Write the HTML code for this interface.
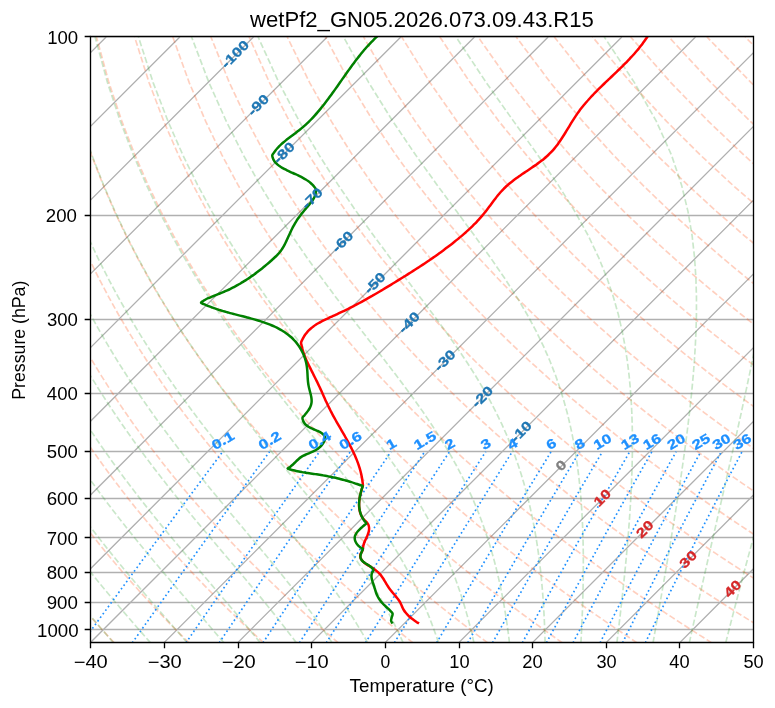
<!DOCTYPE html><html><head><meta charset="utf-8"><style>html,body{margin:0;padding:0;background:#fff;}svg{display:block;will-change:transform;}</style></head><body><svg width="775" height="708" viewBox="0 0 775 708">
<defs><clipPath id="ax"><rect x="90.5" y="36.5" width="663.00" height="606.00"/></clipPath></defs>
<rect width="775" height="708" fill="#fff"/>
<g clip-path="url(#ax)">
<path d="M90.5 36.5H753.5M90.5 215.5H753.5M90.5 319.5H753.5M90.5 393.5H753.5M90.5 451.5H753.5M90.5 498.5H753.5M90.5 537.5H753.5M90.5 572.5H753.5M90.5 602.5H753.5M90.5 629.5H753.5" stroke="#b0b0b0" stroke-width="1.333" fill="none"/>
<path d="M-499.17 642.87L106.15 36.95M-425.5 642.87L179.82 36.95M-351.83 642.87L253.48 36.95M-278.16 642.87L327.15 36.95M-204.5 642.87L400.82 36.95M-130.83 642.87L474.48 36.95M-57.16 642.87L548.15 36.95M16.5 642.87L621.82 36.95M90.17 642.87L695.48 36.95M163.84 642.87L769.15 36.95M237.5 642.87L842.82 36.95M311.17 642.87L916.49 36.95M384.84 642.87L990.15 36.95M458.5 642.87L1063.82 36.95M532.17 642.87L1137.49 36.95M605.84 642.87L1211.15 36.95M679.51 642.87L1284.82 36.95M753.17 642.87L1358.49 36.95" stroke="#b0b0b0" stroke-width="1.333" fill="none"/>
<path d="M114.28 642.87 L109.83 638.07 L105.34 633.17 L100.82 628.19 L96.27 623.1 L91.68 617.91 L87.05 612.61 L82.38 607.21 L77.68 601.68 L72.94 596.04 L68.16 590.27 L63.34 584.37 L58.47 578.32 L53.57 572.14 L48.63 565.8 L43.64 559.3 L38.61 552.64 L33.53 545.79 L28.41 538.76 L23.25 531.53 L18.04 524.1 L12.78 516.44 L7.47 508.55 L2.12 500.41 L-3.28 492.01 L-8.72 483.32 L-14.22 474.32 L-19.76 465 L-25.35 455.34 L-30.98 445.29 L-36.66 434.84 L-42.38 423.95 L-48.14 412.57 L-53.93 400.67 L-59.76 388.2 L-65.62 375.08 L-71.49 361.27 L-77.37 346.67 L-83.24 331.2 L-89.09 314.74 L-94.9 297.15 L-100.63 278.27 L-106.24 257.9 L-111.68 235.79 L-116.86 211.59 L-121.69 184.89 L-125.98 155.09 L-129.51 121.39 L-131.88 82.61 L-132.46 36.95 M188.98 642.87 L184.13 638.07 L179.25 633.17 L174.32 628.19 L169.35 623.1 L164.34 617.91 L159.28 612.61 L154.19 607.21 L149.05 601.68 L143.86 596.04 L138.62 590.27 L133.34 584.37 L128.02 578.32 L122.64 572.14 L117.21 565.8 L111.73 559.3 L106.2 552.64 L100.61 545.79 L94.97 538.76 L89.27 531.53 L83.52 524.1 L77.71 516.44 L71.84 508.55 L65.91 500.41 L59.92 492.01 L53.87 483.32 L47.75 474.32 L41.57 465 L35.33 455.34 L29.03 445.29 L22.66 434.84 L16.22 423.95 L9.73 412.57 L3.18 400.67 L-3.44 388.2 L-10.1 375.08 L-16.82 361.27 L-23.58 346.67 L-30.37 331.2 L-37.18 314.74 L-43.98 297.15 L-50.77 278.27 L-57.49 257.9 L-64.11 235.79 L-70.56 211.59 L-76.73 184.89 L-82.49 155.09 L-87.61 121.39 L-91.74 82.61 L-94.31 36.95 M263.68 642.87 L258.44 638.07 L253.15 633.17 L247.81 628.19 L242.43 623.1 L237 617.91 L231.52 612.61 L225.99 607.21 L220.41 601.68 L214.78 596.04 L209.09 590.27 L203.35 584.37 L197.56 578.32 L191.7 572.14 L185.79 565.8 L179.82 559.3 L173.79 552.64 L167.69 545.79 L161.53 538.76 L155.3 531.53 L149 524.1 L142.64 516.44 L136.2 508.55 L129.7 500.41 L123.11 492.01 L116.46 483.32 L109.72 474.32 L102.9 465 L96.01 455.34 L89.03 445.29 L81.97 434.84 L74.83 423.95 L67.6 412.57 L60.28 400.67 L52.89 388.2 L45.41 375.08 L37.85 361.27 L30.21 346.67 L22.51 331.2 L14.74 314.74 L6.93 297.15 L-0.91 278.27 L-8.75 257.9 L-16.55 235.79 L-24.25 211.59 L-31.77 184.89 L-38.99 155.09 L-45.71 121.39 L-51.61 82.61 L-56.15 36.95 M338.38 642.87 L332.74 638.07 L327.05 633.17 L321.31 628.19 L315.51 623.1 L309.66 617.91 L303.76 612.61 L297.8 607.21 L291.78 601.68 L285.7 596.04 L279.56 590.27 L273.36 584.37 L267.1 578.32 L260.77 572.14 L254.37 565.8 L247.91 559.3 L241.37 552.64 L234.77 545.79 L228.08 538.76 L221.33 531.53 L214.49 524.1 L207.57 516.44 L200.57 508.55 L193.48 500.41 L186.31 492.01 L179.04 483.32 L171.69 474.32 L164.24 465 L156.69 455.34 L149.04 445.29 L141.28 434.84 L133.43 423.95 L125.46 412.57 L117.39 400.67 L109.21 388.2 L100.92 375.08 L92.51 361.27 L84 346.67 L75.38 331.2 L66.66 314.74 L57.85 297.15 L48.95 278.27 L40 257.9 L31.02 235.79 L22.06 211.59 L13.18 184.89 L4.51 155.09 L-3.81 121.39 L-11.47 82.61 L-18 36.95 M413.08 642.87 L407.05 638.07 L400.95 633.17 L394.8 628.19 L388.59 623.1 L382.32 617.91 L375.99 612.61 L369.6 607.21 L363.14 601.68 L356.62 596.04 L350.03 590.27 L343.37 584.37 L336.64 578.32 L329.84 572.14 L322.96 565.8 L316 559.3 L308.96 552.64 L301.84 545.79 L294.64 538.76 L287.35 531.53 L279.97 524.1 L272.5 516.44 L264.93 508.55 L257.27 500.41 L249.5 492.01 L241.63 483.32 L233.66 474.32 L225.57 465 L217.36 455.34 L209.04 445.29 L200.6 434.84 L192.03 423.95 L183.33 412.57 L174.5 400.67 L165.53 388.2 L156.43 375.08 L147.18 361.27 L137.79 346.67 L128.26 331.2 L118.58 314.74 L108.76 297.15 L98.82 278.27 L88.75 257.9 L78.59 235.79 L68.37 211.59 L58.14 184.89 L48 155.09 L38.09 121.39 L28.67 82.61 L20.16 36.95 M487.79 642.87 L481.35 638.07 L474.85 633.17 L468.3 628.19 L461.67 623.1 L454.99 617.91 L448.23 612.61 L441.41 607.21 L434.51 601.68 L427.54 596.04 L420.5 590.27 L413.38 584.37 L406.18 578.32 L398.9 572.14 L391.54 565.8 L384.09 559.3 L376.55 552.64 L368.92 545.79 L361.2 538.76 L353.38 531.53 L345.46 524.1 L337.43 516.44 L329.3 508.55 L321.06 500.41 L312.7 492.01 L304.22 483.32 L295.62 474.32 L286.9 465 L278.04 455.34 L269.05 445.29 L259.91 434.84 L250.63 423.95 L241.2 412.57 L231.61 400.67 L221.86 388.2 L211.94 375.08 L201.85 361.27 L191.58 346.67 L181.13 331.2 L170.5 314.74 L159.68 297.15 L148.68 278.27 L137.5 257.9 L126.16 235.79 L114.67 211.59 L103.1 184.89 L91.5 155.09 L79.99 121.39 L68.8 82.61 L58.31 36.95 M562.49 642.87 L555.65 638.07 L548.76 633.17 L541.79 628.19 L534.75 623.1 L527.65 617.91 L520.47 612.61 L513.21 607.21 L505.88 601.68 L498.46 596.04 L490.97 590.27 L483.39 584.37 L475.72 578.32 L467.97 572.14 L460.12 565.8 L452.18 559.3 L444.14 552.64 L436 545.79 L427.76 538.76 L419.4 531.53 L410.94 524.1 L402.36 516.44 L393.66 508.55 L384.84 500.41 L375.89 492.01 L366.81 483.32 L357.59 474.32 L348.23 465 L338.72 455.34 L329.05 445.29 L319.23 434.84 L309.23 423.95 L299.07 412.57 L288.72 400.67 L278.18 388.2 L267.45 375.08 L256.52 361.27 L245.37 346.67 L234.01 331.2 L222.42 314.74 L210.59 297.15 L198.54 278.27 L186.25 257.9 L173.72 235.79 L160.98 211.59 L148.05 184.89 L134.99 155.09 L121.9 121.39 L108.94 82.61 L96.47 36.95 M637.19 642.87 L629.96 638.07 L622.66 633.17 L615.29 628.19 L607.84 623.1 L600.31 617.91 L592.7 612.61 L585.02 607.21 L577.24 601.68 L569.39 596.04 L561.44 590.27 L553.4 584.37 L545.27 578.32 L537.04 572.14 L528.71 565.8 L520.27 559.3 L511.73 552.64 L503.08 545.79 L494.31 538.76 L485.43 531.53 L476.42 524.1 L467.29 516.44 L458.03 508.55 L448.63 500.41 L439.09 492.01 L429.4 483.32 L419.56 474.32 L409.56 465 L399.39 455.34 L389.06 445.29 L378.54 434.84 L367.83 423.95 L356.93 412.57 L345.83 400.67 L334.51 388.2 L322.96 375.08 L311.18 361.27 L299.16 346.67 L286.88 331.2 L274.33 314.74 L261.51 297.15 L248.4 278.27 L234.99 257.9 L221.29 235.79 L207.29 211.59 L193.01 184.89 L178.49 155.09 L163.8 121.39 L149.08 82.61 L134.63 36.95 M711.89 642.87 L704.26 638.07 L696.56 633.17 L688.78 628.19 L680.92 623.1 L672.97 617.91 L664.94 612.61 L656.82 607.21 L648.61 601.68 L640.31 596.04 L631.91 590.27 L623.41 584.37 L614.81 578.32 L606.1 572.14 L597.29 565.8 L588.36 559.3 L579.32 552.64 L570.16 545.79 L560.87 538.76 L551.46 531.53 L541.91 524.1 L532.22 516.44 L522.39 508.55 L512.42 500.41 L502.28 492.01 L491.99 483.32 L481.53 474.32 L470.89 465 L460.07 455.34 L449.06 445.29 L437.85 434.84 L426.44 423.95 L414.8 412.57 L402.94 400.67 L390.83 388.2 L378.47 375.08 L365.85 361.27 L352.95 346.67 L339.76 331.2 L326.25 314.74 L312.43 297.15 L298.26 278.27 L283.74 257.9 L268.86 235.79 L253.6 211.59 L237.97 184.89 L221.98 155.09 L205.7 121.39 L189.22 82.61 L172.78 36.95 M786.59 642.87 L778.57 638.07 L770.46 633.17 L762.27 628.19 L754 623.1 L745.63 617.91 L737.18 612.61 L728.63 607.21 L719.98 601.68 L711.23 596.04 L702.38 590.27 L693.42 584.37 L684.35 578.32 L675.17 572.14 L665.87 565.8 L656.45 559.3 L646.91 552.64 L637.24 545.79 L627.43 538.76 L617.48 531.53 L607.39 524.1 L597.15 516.44 L586.76 508.55 L576.2 500.41 L565.48 492.01 L554.58 483.32 L543.49 474.32 L532.22 465 L520.75 455.34 L509.07 445.29 L497.17 434.84 L485.04 423.95 L472.67 412.57 L460.04 400.67 L447.15 388.2 L433.98 375.08 L420.52 361.27 L406.74 346.67 L392.63 331.2 L378.17 314.74 L363.34 297.15 L348.12 278.27 L332.49 257.9 L316.42 235.79 L299.91 211.59 L282.92 184.89 L265.48 155.09 L247.6 121.39 L229.35 82.61 L210.94 36.95 M861.29 642.87 L852.87 638.07 L844.37 633.17 L835.77 628.19 L827.08 623.1 L818.3 617.91 L809.41 612.61 L800.43 607.21 L791.34 601.68 L782.15 596.04 L772.85 590.27 L763.43 584.37 L753.89 578.32 L744.24 572.14 L734.45 565.8 L724.54 559.3 L714.5 552.64 L704.31 545.79 L693.99 538.76 L683.51 531.53 L672.88 524.1 L662.08 516.44 L651.12 508.55 L639.99 500.41 L628.67 492.01 L617.17 483.32 L605.46 474.32 L593.55 465 L581.43 455.34 L569.07 445.29 L556.48 434.84 L543.64 423.95 L530.53 412.57 L517.15 400.67 L503.48 388.2 L489.5 375.08 L475.19 361.27 L460.53 346.67 L445.5 331.2 L430.09 314.74 L414.26 297.15 L397.98 278.27 L381.24 257.9 L363.99 235.79 L346.21 211.59 L327.88 184.89 L308.98 155.09 L289.5 121.39 L269.49 82.61 L249.09 36.95 M935.99 642.87 L927.18 638.07 L918.27 633.17 L909.26 628.19 L900.16 623.1 L890.96 617.91 L881.65 612.61 L872.23 607.21 L862.71 601.68 L853.07 596.04 L843.31 590.27 L833.44 584.37 L823.43 578.32 L813.3 572.14 L803.04 565.8 L792.63 559.3 L782.09 552.64 L771.39 545.79 L760.54 538.76 L749.53 531.53 L738.36 524.1 L727.01 516.44 L715.49 508.55 L703.77 500.41 L691.87 492.01 L679.75 483.32 L667.43 474.32 L654.88 465 L642.1 455.34 L629.08 445.29 L615.79 434.84 L602.24 423.95 L588.4 412.57 L574.26 400.67 L559.8 388.2 L545.01 375.08 L529.85 361.27 L514.32 346.67 L498.38 331.2 L482.01 314.74 L465.17 297.15 L447.84 278.27 L429.98 257.9 L411.56 235.79 L392.52 211.59 L372.84 184.89 L352.47 155.09 L331.4 121.39 L309.63 82.61 L287.25 36.95 M1010.69 642.87 L1001.48 638.07 L992.17 633.17 L982.76 628.19 L973.24 623.1 L963.62 617.91 L953.89 612.61 L944.04 607.21 L934.08 601.68 L923.99 596.04 L913.78 590.27 L903.45 584.37 L892.98 578.32 L882.37 572.14 L871.62 565.8 L860.72 559.3 L849.68 552.64 L838.47 545.79 L827.1 538.76 L815.56 531.53 L803.84 524.1 L791.94 516.44 L779.85 508.55 L767.56 500.41 L755.06 492.01 L742.34 483.32 L729.4 474.32 L716.21 465 L702.78 455.34 L689.08 445.29 L675.11 434.84 L660.84 423.95 L646.27 412.57 L631.37 400.67 L616.13 388.2 L600.52 375.08 L584.52 361.27 L568.11 346.67 L551.25 331.2 L533.93 314.74 L516.09 297.15 L497.7 278.27 L478.73 257.9 L459.12 235.79 L438.83 211.59 L417.79 184.89 L395.97 155.09 L373.3 121.39 L349.77 82.61 L325.4 36.95 M1085.39 642.87 L1075.79 638.07 L1066.07 633.17 L1056.25 628.19 L1046.32 623.1 L1036.28 617.91 L1026.12 612.61 L1015.84 607.21 L1005.44 601.68 L994.91 596.04 L984.25 590.27 L973.45 584.37 L962.52 578.32 L951.44 572.14 L940.2 565.8 L928.81 559.3 L917.27 552.64 L905.55 545.79 L893.66 538.76 L881.59 531.53 L869.33 524.1 L856.87 516.44 L844.22 508.55 L831.35 500.41 L818.26 492.01 L804.93 483.32 L791.37 474.32 L777.54 465 L763.46 455.34 L749.09 445.29 L734.42 434.84 L719.44 423.95 L704.14 412.57 L688.48 400.67 L672.45 388.2 L656.03 375.08 L639.19 361.27 L621.9 346.67 L604.13 331.2 L585.84 314.74 L567 297.15 L547.57 278.27 L527.48 257.9 L506.69 235.79 L485.14 211.59 L462.75 184.89 L439.46 155.09 L415.2 121.39 L389.9 82.61 L363.56 36.95 M1160.1 642.87 L1150.09 638.07 L1139.98 633.17 L1129.75 628.19 L1119.41 623.1 L1108.94 617.91 L1098.36 612.61 L1087.65 607.21 L1076.81 601.68 L1065.83 596.04 L1054.72 590.27 L1043.46 584.37 L1032.06 578.32 L1020.5 572.14 L1008.79 565.8 L996.9 559.3 L984.85 552.64 L972.63 545.79 L960.22 538.76 L947.61 531.53 L934.81 524.1 L921.81 516.44 L908.58 508.55 L895.13 500.41 L881.45 492.01 L867.52 483.32 L853.33 474.32 L838.88 465 L824.13 455.34 L809.09 445.29 L793.74 434.84 L778.05 423.95 L762 412.57 L745.59 400.67 L728.78 388.2 L711.54 375.08 L693.86 361.27 L675.69 346.67 L657 331.2 L637.76 314.74 L617.92 297.15 L597.43 278.27 L576.23 257.9 L554.26 235.79 L531.44 211.59 L507.71 184.89 L482.96 155.09 L457.1 121.39 L430.04 82.61 L401.72 36.95 M1234.8 642.87 L1224.39 638.07 L1213.88 633.17 L1203.24 628.19 L1192.49 623.1 L1181.61 617.91 L1170.6 612.61 L1159.45 607.21 L1148.18 601.68 L1136.76 596.04 L1125.19 590.27 L1113.47 584.37 L1101.6 578.32 L1089.57 572.14 L1077.37 565.8 L1065 559.3 L1052.44 552.64 L1039.7 545.79 L1026.77 538.76 L1013.64 531.53 L1000.3 524.1 L986.74 516.44 L972.95 508.55 L958.92 500.41 L944.65 492.01 L930.11 483.32 L915.3 474.32 L900.21 465 L884.81 455.34 L869.1 445.29 L853.05 434.84 L836.65 423.95 L819.87 412.57 L802.7 400.67 L785.1 388.2 L767.05 375.08 L748.52 361.27 L729.48 346.67 L709.88 331.2 L689.68 314.74 L668.84 297.15 L647.29 278.27 L624.98 257.9 L601.82 235.79 L577.75 211.59 L552.66 184.89 L526.45 155.09 L499 121.39 L470.18 82.61 L439.87 36.95 M1309.5 642.87 L1298.7 638.07 L1287.78 633.17 L1276.74 628.19 L1265.57 623.1 L1254.27 617.91 L1242.83 612.61 L1231.26 607.21 L1219.54 601.68 L1207.68 596.04 L1195.66 590.27 L1183.48 584.37 L1171.14 578.32 L1158.63 572.14 L1145.95 565.8 L1133.09 559.3 L1120.03 552.64 L1106.78 545.79 L1093.33 538.76 L1079.67 531.53 L1065.78 524.1 L1051.67 516.44 L1037.31 508.55 L1022.71 500.41 L1007.84 492.01 L992.7 483.32 L977.27 474.32 L961.54 465 L945.49 455.34 L929.1 445.29 L912.36 434.84 L895.25 423.95 L877.74 412.57 L859.8 400.67 L841.42 388.2 L822.56 375.08 L803.19 361.27 L783.27 346.67 L762.75 331.2 L741.6 314.74 L719.75 297.15 L697.15 278.27 L673.72 257.9 L649.39 235.79 L624.06 211.59 L597.62 184.89 L569.95 155.09 L540.9 121.39 L510.31 82.61 L478.03 36.95 M1384.2 642.87 L1373 638.07 L1361.68 633.17 L1350.23 628.19 L1338.65 623.1 L1326.93 617.91 L1315.07 612.61 L1303.06 607.21 L1290.91 601.68 L1278.6 596.04 L1266.13 590.27 L1253.49 584.37 L1240.69 578.32 L1227.7 572.14 L1214.53 565.8 L1201.18 559.3 L1187.62 552.64 L1173.86 545.79 L1159.89 538.76 L1145.69 531.53 L1131.26 524.1 L1116.6 516.44 L1101.68 508.55 L1086.49 500.41 L1071.04 492.01 L1055.29 483.32 L1039.24 474.32 L1022.87 465 L1006.16 455.34 L989.11 445.29 L971.68 434.84 L953.85 423.95 L935.6 412.57 L916.91 400.67 L897.75 388.2 L878.07 375.08 L857.86 361.27 L837.06 346.67 L815.63 331.2 L793.52 314.74 L770.67 297.15 L747.01 278.27 L722.47 257.9 L696.96 235.79 L670.37 211.59 L642.58 184.89 L613.45 155.09 L582.8 121.39 L550.45 82.61 L516.18 36.95 M1458.9 642.87 L1447.31 638.07 L1435.58 633.17 L1423.73 628.19 L1411.73 623.1 L1399.59 617.91 L1387.31 612.61 L1374.87 607.21 L1362.27 601.68 L1349.52 596.04 L1336.6 590.27 L1323.5 584.37 L1310.23 578.32 L1296.77 572.14 L1283.12 565.8 L1269.27 559.3 L1255.21 552.64 L1240.94 545.79 L1226.44 538.76 L1211.72 531.53 L1196.75 524.1 L1181.53 516.44 L1166.04 508.55 L1150.28 500.41 L1134.23 492.01 L1117.88 483.32 L1101.21 474.32 L1084.2 465 L1066.84 455.34 L1049.11 445.29 L1030.99 434.84 L1012.45 423.95 L993.47 412.57 L974.02 400.67 L954.07 388.2 L933.59 375.08 L912.52 361.27 L890.85 346.67 L868.5 331.2 L845.44 314.74 L821.58 297.15 L796.87 278.27 L771.22 257.9 L744.52 235.79 L716.68 211.59 L687.53 184.89 L656.94 155.09 L624.7 121.39 L590.59 82.61 L554.34 36.95 M1533.6 642.87 L1521.61 638.07 L1509.49 633.17 L1497.22 628.19 L1484.81 623.1 L1472.25 617.91 L1459.54 612.61 L1446.67 607.21 L1433.64 601.68 L1420.44 596.04 L1407.07 590.27 L1393.51 584.37 L1379.77 578.32 L1365.83 572.14 L1351.7 565.8 L1337.36 559.3 L1322.8 552.64 L1308.02 545.79 L1293 538.76 L1277.74 531.53 L1262.23 524.1 L1246.46 516.44 L1230.41 508.55 L1214.07 500.41 L1197.42 492.01 L1180.47 483.32 L1163.17 474.32 L1145.53 465 L1127.52 455.34 L1109.12 445.29 L1090.3 434.84 L1071.05 423.95 L1051.34 412.57 L1031.13 400.67 L1010.4 388.2 L989.1 375.08 L967.19 361.27 L944.64 346.67 L921.38 331.2 L897.35 314.74 L872.5 297.15 L846.73 278.27 L819.97 257.9 L792.09 235.79 L762.98 211.59 L732.49 184.89 L700.44 155.09 L666.6 121.39 L630.73 82.61 L592.49 36.95 M1608.3 642.87 L1595.92 638.07 L1583.39 633.17 L1570.72 628.19 L1557.89 623.1 L1544.92 617.91 L1531.78 612.61 L1518.48 607.21 L1505.01 601.68 L1491.36 596.04 L1477.53 590.27 L1463.52 584.37 L1449.31 578.32 L1434.9 572.14 L1420.28 565.8 L1405.45 559.3 L1390.39 552.64 L1375.1 545.79 L1359.56 538.76 L1343.77 531.53 L1327.72 524.1 L1311.39 516.44 L1294.77 508.55 L1277.85 500.41 L1260.62 492.01 L1243.05 483.32 L1225.14 474.32 L1206.86 465 L1188.2 455.34 L1169.12 445.29 L1149.62 434.84 L1129.65 423.95 L1109.21 412.57 L1088.24 400.67 L1066.72 388.2 L1044.61 375.08 L1021.86 361.27 L998.43 346.67 L974.25 331.2 L949.27 314.74 L923.41 297.15 L896.59 278.27 L868.71 257.9 L839.66 235.79 L809.29 211.59 L777.45 184.89 L743.93 155.09 L708.5 121.39 L670.86 82.61 L630.65 36.95 M1683 642.87 L1670.22 638.07 L1657.29 633.17 L1644.21 628.19 L1630.97 623.1 L1617.58 617.91 L1604.02 612.61 L1590.28 607.21 L1576.37 601.68 L1562.28 596.04 L1548 590.27 L1533.53 584.37 L1518.85 578.32 L1503.97 572.14 L1488.87 565.8 L1473.54 559.3 L1457.98 552.64 L1442.17 545.79 L1426.12 538.76 L1409.8 531.53 L1393.2 524.1 L1376.32 516.44 L1359.14 508.55 L1341.64 500.41 L1323.81 492.01 L1305.64 483.32 L1287.11 474.32 L1268.19 465 L1248.87 455.34 L1229.13 445.29 L1208.93 434.84 L1188.26 423.95 L1167.07 412.57 L1145.35 400.67 L1123.04 388.2 L1100.12 375.08 L1076.53 361.27 L1052.22 346.67 L1027.13 331.2 L1001.19 314.74 L974.33 297.15 L946.46 278.27 L917.46 257.9 L887.23 235.79 L855.6 211.59 L822.4 184.89 L787.43 155.09 L750.4 121.39 L711 82.61 L668.8 36.95 M1757.7 642.87 L1744.53 638.07 L1731.19 633.17 L1717.71 628.19 L1704.06 623.1 L1690.24 617.91 L1676.25 612.61 L1662.09 607.21 L1647.74 601.68 L1633.2 596.04 L1618.47 590.27 L1603.54 584.37 L1588.39 578.32 L1573.03 572.14 L1557.45 565.8 L1541.63 559.3 L1525.57 552.64 L1509.25 545.79 L1492.67 538.76 L1475.82 531.53 L1458.69 524.1 L1441.25 516.44 L1423.5 508.55 L1405.43 500.41 L1387.01 492.01 L1368.23 483.32 L1349.08 474.32 L1329.52 465 L1309.55 455.34 L1289.13 445.29 L1268.24 434.84 L1246.86 423.95 L1224.94 412.57 L1202.46 400.67 L1179.37 388.2 L1155.63 375.08 L1131.19 361.27 L1106.01 346.67 L1080 331.2 L1053.11 314.74 L1025.25 297.15 L996.32 278.27 L966.21 257.9 L934.79 235.79 L901.91 211.59 L867.36 184.89 L830.92 155.09 L792.3 121.39 L751.14 82.61 L706.96 36.95 M1832.41 642.87 L1818.83 638.07 L1805.1 633.17 L1791.2 628.19 L1777.14 623.1 L1762.9 617.91 L1748.49 612.61 L1733.89 607.21 L1719.11 601.68 L1704.13 596.04 L1688.94 590.27 L1673.55 584.37 L1657.94 578.32 L1642.1 572.14 L1626.03 565.8 L1609.72 559.3 L1593.16 552.64 L1576.33 545.79 L1559.23 538.76 L1541.85 531.53 L1524.17 524.1 L1506.18 516.44 L1487.87 508.55 L1469.21 500.41 L1450.2 492.01 L1430.82 483.32 L1411.04 474.32 L1390.85 465 L1370.23 455.34 L1349.14 445.29 L1327.56 434.84 L1305.46 423.95 L1282.81 412.57 L1259.56 400.67 L1235.69 388.2 L1211.14 375.08 L1185.86 361.27 L1159.8 346.67 L1132.88 331.2 L1105.03 314.74 L1076.16 297.15 L1046.18 278.27 L1014.96 257.9 L982.36 235.79 L948.21 211.59 L912.32 184.89 L874.42 155.09 L834.2 121.39 L791.27 82.61 L745.12 36.95 M1907.11 642.87 L1893.13 638.07 L1879 633.17 L1864.69 628.19 L1850.22 623.1 L1835.56 617.91 L1820.73 612.61 L1805.7 607.21 L1790.47 601.68 L1775.05 596.04 L1759.41 590.27 L1743.56 584.37 L1727.48 578.32 L1711.17 572.14 L1694.61 565.8 L1677.81 559.3 L1660.74 552.64 L1643.41 545.79 L1625.79 538.76 L1607.87 531.53 L1589.65 524.1 L1571.11 516.44 L1552.23 508.55 L1533 500.41 L1513.4 492.01 L1493.41 483.32 L1473.01 474.32 L1452.19 465 L1430.9 455.34 L1409.14 445.29 L1386.87 434.84 L1364.06 423.95 L1340.67 412.57 L1316.67 400.67 L1292.02 388.2 L1266.65 375.08 L1240.53 361.27 L1213.59 346.67 L1185.75 331.2 L1156.95 314.74 L1127.08 297.15 L1096.04 278.27 L1063.71 257.9 L1029.93 235.79 L994.52 211.59 L957.27 184.89 L917.91 155.09 L876.11 121.39 L831.41 82.61 L783.27 36.95 M1981.81 642.87 L1967.44 638.07 L1952.9 633.17 L1938.19 628.19 L1923.3 623.1 L1908.23 617.91 L1892.96 612.61 L1877.5 607.21 L1861.84 601.68 L1845.97 596.04 L1829.88 590.27 L1813.57 584.37 L1797.02 578.32 L1780.23 572.14 L1763.2 565.8 L1745.9 559.3 L1728.33 552.64 L1710.49 545.79 L1692.35 538.76 L1673.9 531.53 L1655.14 524.1 L1636.04 516.44 L1616.6 508.55 L1596.79 500.41 L1576.59 492.01 L1556 483.32 L1534.98 474.32 L1513.52 465 L1491.58 455.34 L1469.15 445.29 L1446.19 434.84 L1422.66 423.95 L1398.54 412.57 L1373.78 400.67 L1348.34 388.2 L1322.16 375.08 L1295.2 361.27 L1267.37 346.67 L1238.63 331.2 L1208.86 314.74 L1177.99 297.15 L1145.9 278.27 L1112.45 257.9 L1077.49 235.79 L1040.83 211.59 L1002.23 184.89 L961.41 155.09 L918.01 121.39 L871.55 82.61 L821.43 36.95 M2056.51 642.87 L2041.74 638.07 L2026.8 633.17 L2011.68 628.19 L1996.38 623.1 L1980.89 617.91 L1965.2 612.61 L1949.31 607.21 L1933.21 601.68 L1916.89 596.04 L1900.35 590.27 L1883.57 584.37 L1866.56 578.32 L1849.3 572.14 L1831.78 565.8 L1813.99 559.3 L1795.92 552.64 L1777.56 545.79 L1758.9 538.76 L1739.93 531.53 L1720.62 524.1 L1700.97 516.44 L1680.96 508.55 L1660.57 500.41 L1639.79 492.01 L1618.59 483.32 L1596.95 474.32 L1574.85 465 L1552.26 455.34 L1529.15 445.29 L1505.5 434.84 L1481.26 423.95 L1456.41 412.57 L1430.89 400.67 L1404.66 388.2 L1377.67 375.08 L1349.86 361.27 L1321.16 346.67 L1291.5 331.2 L1260.78 314.74 L1228.91 297.15 L1195.76 278.27 L1161.2 257.9 L1125.06 235.79 L1087.14 211.59 L1047.19 184.89 L1004.91 155.09 L959.91 121.39 L911.69 82.61 L859.58 36.95 M2131.21 642.87 L2116.05 638.07 L2100.71 633.17 L2085.18 628.19 L2069.46 623.1 L2053.55 617.91 L2037.44 612.61 L2021.11 607.21 L2004.57 601.68 L1987.81 596.04 L1970.82 590.27 L1953.58 584.37 L1936.1 578.32 L1918.37 572.14 L1900.36 565.8 L1882.08 559.3 L1863.51 552.64 L1844.64 545.79 L1825.46 538.76 L1805.95 531.53 L1786.11 524.1 L1765.9 516.44 L1745.33 508.55 L1724.36 500.41 L1702.98 492.01 L1681.18 483.32 L1658.92 474.32 L1636.18 465 L1612.94 455.34 L1589.16 445.29 L1564.81 434.84 L1539.87 423.95 L1514.28 412.57 L1488 400.67 L1460.99 388.2 L1433.19 375.08 L1404.53 361.27 L1374.95 346.67 L1344.37 331.2 L1312.7 314.74 L1279.82 297.15 L1245.62 278.27 L1209.95 257.9 L1172.63 235.79 L1133.44 211.59 L1092.14 184.89 L1048.4 155.09 L1001.81 121.39 L951.82 82.61 L897.74 36.95 M2205.91 642.87 L2190.35 638.07 L2174.61 633.17 L2158.67 628.19 L2142.54 623.1 L2126.21 617.91 L2109.67 612.61 L2092.92 607.21 L2075.94 601.68 L2058.73 596.04 L2041.29 590.27 L2023.59 584.37 L2005.65 578.32 L1987.43 572.14 L1968.95 565.8 L1950.17 559.3 L1931.1 552.64 L1911.72 545.79 L1892.02 538.76 L1871.98 531.53 L1851.59 524.1 L1830.83 516.44 L1809.69 508.55 L1788.15 500.41 L1766.18 492.01 L1743.77 483.32 L1720.88 474.32 L1697.51 465 L1673.61 455.34 L1649.16 445.29 L1624.13 434.84 L1598.47 423.95 L1572.14 412.57 L1545.11 400.67 L1517.31 388.2 L1488.7 375.08 L1459.2 361.27 L1428.74 346.67 L1397.25 331.2 L1364.62 314.74 L1330.74 297.15 L1295.48 278.27 L1258.7 257.9 L1220.19 235.79 L1179.75 211.59 L1137.1 184.89 L1091.9 155.09 L1043.71 121.39 L991.96 82.61 L935.89 36.95 M2280.61 642.87 L2264.66 638.07 L2248.51 633.17 L2232.17 628.19 L2215.63 623.1 L2198.87 617.91 L2181.91 612.61 L2164.72 607.21 L2147.31 601.68 L2129.65 596.04 L2111.75 590.27 L2093.6 584.37 L2075.19 578.32 L2056.5 572.14 L2037.53 565.8 L2018.26 559.3 L1998.69 552.64 L1978.8 545.79 L1958.58 538.76 L1938.01 531.53 L1917.07 524.1 L1895.76 516.44 L1874.06 508.55 L1851.93 500.41 L1829.37 492.01 L1806.35 483.32 L1782.85 474.32 L1758.84 465 L1734.29 455.34 L1709.17 445.29 L1683.44 434.84 L1657.07 423.95 L1630.01 412.57 L1602.22 400.67 L1573.64 388.2 L1544.21 375.08 L1513.87 361.27 L1482.53 346.67 L1450.12 331.2 L1416.54 314.74 L1381.66 297.15 L1345.35 278.27 L1307.44 257.9 L1267.76 235.79 L1226.06 211.59 L1182.06 184.89 L1135.39 155.09 L1085.61 121.39 L1032.1 82.61 L974.05 36.95" stroke="#ff4500" stroke-opacity="0.25" stroke-width="1.667" fill="none" stroke-dasharray="6.167 2.667"/>
<path d="M113.62 642.87 L109.44 638.07 L105.21 633.17 L100.92 628.19 L96.57 623.1 L92.17 617.91 L87.72 612.61 L83.21 607.21 L78.65 601.68 L74.04 596.04 L69.37 590.27 L64.64 584.37 L59.87 578.32 L55.04 572.14 L50.16 565.8 L45.23 559.3 L40.24 552.64 L35.2 545.79 L30.11 538.76 L24.97 531.53 L19.78 524.1 L14.53 516.44 L9.24 508.55 L3.89 500.41 L-1.51 492.01 L-6.96 483.32 L-12.46 474.32 L-18.02 465 L-23.62 455.34 L-29.26 445.29 L-34.96 434.84 L-40.69 423.95 L-46.47 412.57 L-52.29 400.67 L-58.14 388.2 L-64.02 375.08 L-69.91 361.27 L-75.82 346.67 L-81.72 331.2 L-87.6 314.74 L-93.43 297.15 L-99.19 278.27 L-104.84 257.9 L-110.31 235.79 L-115.53 211.59 L-120.39 184.89 L-124.73 155.09 L-128.3 121.39 L-130.72 82.61 L-131.36 36.95 M150.58 642.87 L146.36 638.07 L142.08 633.17 L137.72 628.19 L133.3 623.1 L128.81 617.91 L124.25 612.61 L119.63 607.21 L114.94 601.68 L110.18 596.04 L105.36 590.27 L100.48 584.37 L95.53 578.32 L90.51 572.14 L85.44 565.8 L80.3 559.3 L75.1 552.64 L69.83 545.79 L64.51 538.76 L59.12 531.53 L53.67 524.1 L48.16 516.44 L42.59 508.55 L36.96 500.41 L31.26 492.01 L25.51 483.32 L19.69 474.32 L13.82 465 L7.88 455.34 L1.89 445.29 L-4.16 434.84 L-10.26 423.95 L-16.42 412.57 L-22.63 400.67 L-28.88 388.2 L-35.18 375.08 L-41.52 361.27 L-47.88 346.67 L-54.25 331.2 L-60.63 314.74 L-66.98 297.15 L-73.29 278.27 L-79.51 257.9 L-85.6 235.79 L-91.47 211.59 L-97.04 184.89 L-102.13 155.09 L-106.53 121.39 L-109.87 82.61 L-111.54 36.95 M187.38 642.87 L183.19 638.07 L178.91 633.17 L174.55 628.19 L170.11 623.1 L165.58 617.91 L160.98 612.61 L156.29 607.21 L151.52 601.68 L146.67 596.04 L141.74 590.27 L136.73 584.37 L131.65 578.32 L126.48 572.14 L121.24 565.8 L115.92 559.3 L110.53 552.64 L105.06 545.79 L99.51 538.76 L93.89 531.53 L88.2 524.1 L82.44 516.44 L76.6 508.55 L70.68 500.41 L64.7 492.01 L58.64 483.32 L52.52 474.32 L46.32 465 L40.05 455.34 L33.71 445.29 L27.3 434.84 L20.82 423.95 L14.28 412.57 L7.67 400.67 L1 388.2 L-5.73 375.08 L-12.51 361.27 L-19.33 346.67 L-26.19 331.2 L-33.08 314.74 L-39.96 297.15 L-46.83 278.27 L-53.64 257.9 L-60.36 235.79 L-66.9 211.59 L-73.18 184.89 L-79.05 155.09 L-84.3 121.39 L-88.57 82.61 L-91.29 36.95 M223.97 642.87 L219.88 638.07 L215.7 633.17 L211.42 628.19 L207.03 623.1 L202.55 617.91 L197.97 612.61 L193.29 607.21 L188.51 601.68 L183.63 596.04 L178.66 590.27 L173.58 584.37 L168.41 578.32 L163.14 572.14 L157.78 565.8 L152.32 559.3 L146.77 552.64 L141.13 545.79 L135.4 538.76 L129.57 531.53 L123.66 524.1 L117.65 516.44 L111.56 508.55 L105.38 500.41 L99.11 492.01 L92.76 483.32 L86.32 474.32 L79.8 465 L73.19 455.34 L66.5 445.29 L59.73 434.84 L52.87 423.95 L45.93 412.57 L38.92 400.67 L31.82 388.2 L24.65 375.08 L17.41 361.27 L10.11 346.67 L2.75 331.2 L-4.66 314.74 L-12.1 297.15 L-19.54 278.27 L-26.96 257.9 L-34.32 235.79 L-41.55 211.59 L-48.57 184.89 L-55.24 155.09 L-61.36 121.39 L-66.6 82.61 L-70.41 36.95 M260.3 642.87 L256.42 638.07 L252.43 633.17 L248.32 628.19 L244.1 623.1 L239.76 617.91 L235.3 612.61 L230.72 607.21 L226.02 601.68 L221.2 596.04 L216.27 590.27 L211.21 584.37 L206.03 578.32 L200.73 572.14 L195.32 565.8 L189.79 559.3 L184.14 552.64 L178.38 545.79 L172.5 538.76 L166.51 531.53 L160.41 524.1 L154.2 516.44 L147.88 508.55 L141.45 500.41 L134.92 492.01 L128.28 483.32 L121.54 474.32 L114.7 465 L107.76 455.34 L100.71 445.29 L93.57 434.84 L86.32 423.95 L78.98 412.57 L71.54 400.67 L64 388.2 L56.38 375.08 L48.66 361.27 L40.85 346.67 L32.97 331.2 L25.02 314.74 L17.01 297.15 L8.97 278.27 L0.91 257.9 L-7.12 235.79 L-15.08 211.59 L-22.87 184.89 L-30.38 155.09 L-37.41 121.39 L-43.66 82.61 L-48.6 36.95 M296.37 642.87 L292.79 638.07 L289.1 633.17 L285.27 628.19 L281.32 623.1 L277.23 617.91 L273.01 612.61 L268.65 607.21 L264.15 601.68 L259.51 596.04 L254.72 590.27 L249.8 584.37 L244.72 578.32 L239.5 572.14 L234.14 565.8 L228.63 559.3 L222.97 552.64 L217.17 545.79 L211.23 538.76 L205.15 531.53 L198.92 524.1 L192.56 516.44 L186.06 508.55 L179.43 500.41 L172.67 492.01 L165.77 483.32 L158.75 474.32 L151.6 465 L144.32 455.34 L136.93 445.29 L129.41 434.84 L121.77 423.95 L114.01 412.57 L106.13 400.67 L98.13 388.2 L90.03 375.08 L81.81 361.27 L73.48 346.67 L65.05 331.2 L56.52 314.74 L47.9 297.15 L39.22 278.27 L30.48 257.9 L21.73 235.79 L13.02 211.59 L4.41 184.89 L-3.99 155.09 L-11.99 121.39 L-19.31 82.61 L-25.45 36.95 M332.18 642.87 L329 638.07 L325.7 633.17 L322.27 628.19 L318.7 623.1 L314.99 617.91 L311.13 612.61 L307.12 607.21 L302.95 601.68 L298.63 596.04 L294.14 590.27 L289.49 584.37 L284.66 578.32 L279.67 572.14 L274.49 565.8 L269.15 559.3 L263.62 552.64 L257.91 545.79 L252.03 538.76 L245.96 531.53 L239.72 524.1 L233.31 516.44 L226.72 508.55 L219.96 500.41 L213.02 492.01 L205.93 483.32 L198.66 474.32 L191.24 465 L183.66 455.34 L175.93 445.29 L168.04 434.84 L160 423.95 L151.82 412.57 L143.49 400.67 L135.01 388.2 L126.4 375.08 L117.64 361.27 L108.75 346.67 L99.73 331.2 L90.58 314.74 L81.31 297.15 L71.94 278.27 L62.47 257.9 L52.95 235.79 L43.41 211.59 L33.91 184.89 L24.56 155.09 L15.51 121.39 L7.03 82.61 L-0.41 36.95 M367.77 642.87 L365.07 638.07 L362.26 633.17 L359.31 628.19 L356.22 623.1 L353 617.91 L349.63 612.61 L346.1 607.21 L342.42 601.68 L338.56 596.04 L334.53 590.27 L330.32 584.37 L325.92 578.32 L321.32 572.14 L316.53 565.8 L311.53 559.3 L306.32 552.64 L300.9 545.79 L295.25 538.76 L289.39 531.53 L283.31 524.1 L277 516.44 L270.47 508.55 L263.72 500.41 L256.75 492.01 L249.56 483.32 L242.15 474.32 L234.54 465 L226.72 455.34 L218.69 445.29 L210.47 434.84 L202.06 423.95 L193.45 412.57 L184.66 400.67 L175.69 388.2 L166.54 375.08 L157.22 361.27 L147.72 346.67 L138.05 331.2 L128.23 314.74 L118.24 297.15 L108.11 278.27 L97.84 257.9 L87.46 235.79 L77.01 211.59 L66.53 184.89 L56.12 155.09 L45.91 121.39 L36.16 82.61 L27.28 36.95 M403.22 642.87 L401.05 638.07 L398.77 633.17 L396.38 628.19 L393.86 623.1 L391.21 617.91 L388.43 612.61 L385.5 607.21 L382.42 601.68 L379.17 596.04 L375.75 590.27 L372.15 584.37 L368.36 578.32 L364.37 572.14 L360.16 565.8 L355.73 559.3 L351.08 552.64 L346.18 545.79 L341.03 538.76 L335.62 531.53 L329.95 524.1 L324.01 516.44 L317.79 508.55 L311.29 500.41 L304.51 492.01 L297.44 483.32 L290.09 474.32 L282.45 465 L274.54 455.34 L266.36 445.29 L257.9 434.84 L249.19 423.95 L240.22 412.57 L231 400.67 L221.54 388.2 L211.85 375.08 L201.92 361.27 L191.78 346.67 L181.41 331.2 L170.83 314.74 L160.05 297.15 L149.07 278.27 L137.89 257.9 L126.55 235.79 L115.06 211.59 L103.48 184.89 L91.87 155.09 L80.35 121.39 L69.15 82.61 L58.64 36.95 M438.6 642.87 L436.98 638.07 L435.26 633.17 L433.46 628.19 L431.55 623.1 L429.53 617.91 L427.4 612.61 L425.14 607.21 L422.75 601.68 L420.21 596.04 L417.52 590.27 L414.66 584.37 L411.63 578.32 L408.41 572.14 L404.99 565.8 L401.36 559.3 L397.49 552.64 L393.39 545.79 L389.02 538.76 L384.38 531.53 L379.45 524.1 L374.22 516.44 L368.67 508.55 L362.79 500.41 L356.56 492.01 L349.98 483.32 L343.04 474.32 L335.72 465 L328.04 455.34 L319.98 445.29 L311.55 434.84 L302.75 423.95 L293.59 412.57 L284.08 400.67 L274.23 388.2 L264.05 375.08 L253.55 361.27 L242.74 346.67 L231.63 331.2 L220.23 314.74 L208.56 297.15 L196.61 278.27 L184.4 257.9 L171.95 235.79 L159.27 211.59 L146.4 184.89 L133.39 155.09 L120.36 121.39 L107.47 82.61 L95.07 36.95 M473.99 642.87 L472.91 638.07 L471.76 633.17 L470.54 628.19 L469.24 623.1 L467.86 617.91 L466.39 612.61 L464.82 607.21 L463.15 601.68 L461.36 596.04 L459.45 590.27 L457.41 584.37 L455.22 578.32 L452.88 572.14 L450.37 565.8 L447.68 559.3 L444.79 552.64 L441.68 545.79 L438.34 538.76 L434.75 531.53 L430.89 524.1 L426.72 516.44 L422.24 508.55 L417.42 500.41 L412.23 492.01 L406.65 483.32 L400.64 474.32 L394.2 465 L387.3 455.34 L379.92 445.29 L372.04 434.84 L363.66 423.95 L354.76 412.57 L345.36 400.67 L335.44 388.2 L325.04 375.08 L314.15 361.27 L302.8 346.67 L291.01 331.2 L278.79 314.74 L266.16 297.15 L253.15 278.27 L239.76 257.9 L226.02 235.79 L211.94 211.59 L197.55 184.89 L182.89 155.09 L168.04 121.39 L153.14 82.61 L138.49 36.95 M509.48 642.87 L508.9 638.07 L508.28 633.17 L507.61 628.19 L506.89 623.1 L506.11 617.91 L505.26 612.61 L504.36 607.21 L503.38 601.68 L502.32 596.04 L501.17 590.27 L499.94 584.37 L498.6 578.32 L497.14 572.14 L495.57 565.8 L493.86 559.3 L492 552.64 L489.98 545.79 L487.78 538.76 L485.38 531.53 L482.77 524.1 L479.91 516.44 L476.79 508.55 L473.38 500.41 L469.63 492.01 L465.53 483.32 L461.04 474.32 L456.11 465 L450.7 455.34 L444.78 445.29 L438.29 434.84 L431.19 423.95 L423.45 412.57 L415.02 400.67 L405.88 388.2 L396.01 375.08 L385.4 361.27 L374.06 346.67 L362 331.2 L349.24 314.74 L335.82 297.15 L321.77 278.27 L307.14 257.9 L291.95 235.79 L276.23 211.59 L260.03 184.89 L243.37 155.09 L226.32 121.39 L208.98 82.61 L191.57 36.95 M545.11 642.87 L544.98 638.07 L544.83 633.17 L544.65 628.19 L544.45 623.1 L544.21 617.91 L543.93 612.61 L543.62 607.21 L543.27 601.68 L542.87 596.04 L542.42 590.27 L541.91 584.37 L541.34 578.32 L540.71 572.14 L540 565.8 L539.2 559.3 L538.32 552.64 L537.33 545.79 L536.23 538.76 L535 531.53 L533.62 524.1 L532.09 516.44 L530.38 508.55 L528.46 500.41 L526.31 492.01 L523.91 483.32 L521.21 474.32 L518.17 465 L514.76 455.34 L510.93 445.29 L506.6 434.84 L501.72 423.95 L496.22 412.57 L490.01 400.67 L483.01 388.2 L475.13 375.08 L466.29 361.27 L456.41 346.67 L445.44 331.2 L433.33 314.74 L420.07 297.15 L405.69 278.27 L390.23 257.9 L373.77 235.79 L356.37 211.59 L338.12 184.89 L319.08 155.09 L299.32 121.39 L278.94 82.61 L258.09 36.95 M580.91 642.87 L581.17 638.07 L581.42 633.17 L581.67 628.19 L581.9 623.1 L582.13 617.91 L582.34 612.61 L582.54 607.21 L582.72 601.68 L582.88 596.04 L583.02 590.27 L583.14 584.37 L583.24 578.32 L583.3 572.14 L583.33 565.8 L583.32 559.3 L583.27 552.64 L583.17 545.79 L583.01 538.76 L582.79 531.53 L582.5 524.1 L582.13 516.44 L581.66 508.55 L581.08 500.41 L580.38 492.01 L579.54 483.32 L578.53 474.32 L577.33 465 L575.9 455.34 L574.22 445.29 L572.23 434.84 L569.88 423.95 L567.12 412.57 L563.85 400.67 L559.99 388.2 L555.43 375.08 L550.05 361.27 L543.67 346.67 L536.14 331.2 L527.26 314.74 L516.83 297.15 L504.67 278.27 L490.64 257.9 L474.66 235.79 L456.77 211.59 L437.05 184.89 L415.69 155.09 L392.87 121.39 L368.76 82.61 L343.55 36.95 M616.88 642.87 L617.46 638.07 L618.05 633.17 L618.65 628.19 L619.25 623.1 L619.86 617.91 L620.48 612.61 L621.09 607.21 L621.71 601.68 L622.34 596.04 L622.96 590.27 L623.59 584.37 L624.22 578.32 L624.85 572.14 L625.48 565.8 L626.1 559.3 L626.72 552.64 L627.33 545.79 L627.93 538.76 L628.52 531.53 L629.09 524.1 L629.64 516.44 L630.17 508.55 L630.66 500.41 L631.11 492.01 L631.52 483.32 L631.86 474.32 L632.14 465 L632.33 455.34 L632.42 445.29 L632.38 434.84 L632.19 423.95 L631.81 412.57 L631.2 400.67 L630.3 388.2 L629.05 375.08 L627.37 361.27 L625.13 346.67 L622.2 331.2 L618.38 314.74 L613.44 297.15 L607.05 278.27 L598.83 257.9 L588.3 235.79 L574.91 211.59 L558.18 184.89 L537.77 155.09 L513.69 121.39 L486.26 82.61 L456.02 36.95 M653.01 642.87 L653.86 638.07 L654.72 633.17 L655.61 628.19 L656.5 623.1 L657.42 617.91 L658.35 612.61 L659.3 607.21 L660.27 601.68 L661.26 596.04 L662.27 590.27 L663.3 584.37 L664.35 578.32 L665.42 572.14 L666.51 565.8 L667.62 559.3 L668.76 552.64 L669.91 545.79 L671.09 538.76 L672.29 531.53 L673.52 524.1 L674.77 516.44 L676.03 508.55 L677.32 500.41 L678.63 492.01 L679.96 483.32 L681.3 474.32 L682.66 465 L684.03 455.34 L685.41 445.29 L686.78 434.84 L688.14 423.95 L689.49 412.57 L690.81 400.67 L692.07 388.2 L693.26 375.08 L694.34 361.27 L695.27 346.67 L696 331.2 L696.43 314.74 L696.46 297.15 L695.92 278.27 L694.59 257.9 L692.13 235.79 L688.02 211.59 L681.51 184.89 L671.49 155.09 L656.39 121.39 L634.41 82.61 L604.28 36.95 M689.3 642.87 L690.35 638.07 L691.43 633.17 L692.53 628.19 L693.66 623.1 L694.81 617.91 L696 612.61 L697.2 607.21 L698.44 601.68 L699.71 596.04 L701.01 590.27 L702.34 584.37 L703.71 578.32 L705.12 572.14 L706.56 565.8 L708.04 559.3 L709.55 552.64 L711.12 545.79 L712.72 538.76 L714.38 531.53 L716.08 524.1 L717.83 516.44 L719.64 508.55 L721.5 500.41 L723.42 492.01 L725.4 483.32 L727.45 474.32 L729.56 465 L731.75 455.34 L734.01 445.29 L736.35 434.84 L738.77 423.95 L741.28 412.57 L743.87 400.67 L746.55 388.2 L749.33 375.08 L752.2 361.27 L755.16 346.67 L758.21 331.2 L761.33 314.74 L764.52 297.15 L767.73 278.27 L770.93 257.9 L774.02 235.79 L776.86 211.59 L779.21 184.89 L780.65 155.09 L780.38 121.39 L776.89 82.61 L767.16 36.95 M725.71 642.87 L726.93 638.07 L728.17 633.17 L729.44 628.19 L730.74 623.1 L732.07 617.91 L733.44 612.61 L734.84 607.21 L736.28 601.68 L737.76 596.04 L739.27 590.27 L740.83 584.37 L742.43 578.32 L744.08 572.14 L745.78 565.8 L747.52 559.3 L749.32 552.64 L751.18 545.79 L753.09 538.76 L755.07 531.53 L757.11 524.1 L759.22 516.44 L761.41 508.55 L763.67 500.41 L766.02 492.01 L768.45 483.32 L770.98 474.32 L773.61 465 L776.35 455.34 L779.21 445.29 L782.19 434.84 L785.31 423.95 L788.57 412.57 L791.99 400.67 L795.58 388.2 L799.36 375.08 L803.34 361.27 L807.54 346.67 L812 331.2 L816.72 314.74 L821.75 297.15 L827.1 278.27 L832.83 257.9 L838.96 235.79 L845.54 211.59 L852.6 184.89 L860.17 155.09 L868.21 121.39 L876.58 82.61 L884.79 36.95 M762.24 642.87 L763.57 638.07 L764.93 633.17 L766.32 628.19 L767.75 623.1 L769.21 617.91 L770.72 612.61 L772.26 607.21 L773.84 601.68 L775.47 596.04 L777.14 590.27 L778.86 584.37 L780.63 578.32 L782.45 572.14 L784.32 565.8 L786.26 559.3 L788.25 552.64 L790.32 545.79 L792.44 538.76 L794.64 531.53 L796.92 524.1 L799.28 516.44 L801.73 508.55 L804.27 500.41 L806.9 492.01 L809.64 483.32 L812.5 474.32 L815.48 465 L818.58 455.34 L821.83 445.29 L825.23 434.84 L828.8 423.95 L832.55 412.57 L836.5 400.67 L840.66 388.2 L845.07 375.08 L849.74 361.27 L854.71 346.67 L860 331.2 L865.68 314.74 L871.77 297.15 L878.35 278.27 L885.48 257.9 L893.27 235.79 L901.82 211.59 L911.29 184.89 L921.86 155.09 L933.79 121.39 L947.44 82.61 L963.27 36.95 M798.87 642.87 L800.28 638.07 L801.72 633.17 L803.19 628.19 L804.71 623.1 L806.26 617.91 L807.85 612.61 L809.49 607.21 L811.17 601.68 L812.9 596.04 L814.68 590.27 L816.51 584.37 L818.39 578.32 L820.33 572.14 L822.33 565.8 L824.39 559.3 L826.51 552.64 L828.71 545.79 L830.99 538.76 L833.34 531.53 L835.77 524.1 L838.29 516.44 L840.91 508.55 L843.63 500.41 L846.46 492.01 L849.4 483.32 L852.47 474.32 L855.67 465 L859.01 455.34 L862.51 445.29 L866.18 434.84 L870.04 423.95 L874.09 412.57 L878.37 400.67 L882.89 388.2 L887.68 375.08 L892.78 361.27 L898.2 346.67 L904.01 331.2 L910.24 314.74 L916.96 297.15 L924.24 278.27 L932.18 257.9 L940.89 235.79 L950.51 211.59 L961.25 184.89 L973.37 155.09 L987.22 121.39 L1003.34 82.61 L1022.54 36.95 M835.57 642.87 L837.03 638.07 L838.52 633.17 L840.05 628.19 L841.62 623.1 L843.23 617.91 L844.88 612.61 L846.58 607.21 L848.32 601.68 L850.11 596.04 L851.95 590.27 L853.85 584.37 L855.8 578.32 L857.81 572.14 L859.89 565.8 L862.03 559.3 L864.24 552.64 L866.52 545.79 L868.88 538.76 L871.33 531.53 L873.86 524.1 L876.48 516.44 L879.21 508.55 L882.04 500.41 L884.98 492.01 L888.04 483.32 L891.24 474.32 L894.57 465 L898.06 455.34 L901.72 445.29 L905.55 434.84 L909.58 423.95 L913.82 412.57 L918.29 400.67 L923.02 388.2 L928.04 375.08 L933.38 361.27 L939.08 346.67 L945.18 331.2 L951.73 314.74 L958.81 297.15 L966.49 278.27 L974.88 257.9 L984.09 235.79 L994.31 211.59 L1005.73 184.89 L1018.65 155.09 L1033.49 121.39 L1050.85 82.61 L1071.66 36.95 M872.34 642.87 L873.82 638.07 L875.34 633.17 L876.89 628.19 L878.49 623.1 L880.13 617.91 L881.81 612.61 L883.54 607.21 L885.31 601.68 L887.14 596.04 L889.01 590.27 L890.95 584.37 L892.94 578.32 L894.99 572.14 L897.1 565.8 L899.28 559.3 L901.53 552.64 L903.86 545.79 L906.27 538.76 L908.76 531.53 L911.34 524.1 L914.02 516.44 L916.8 508.55 L919.69 500.41 L922.69 492.01 L925.82 483.32 L929.09 474.32 L932.49 465 L936.06 455.34 L939.79 445.29 L943.71 434.84 L947.83 423.95 L952.17 412.57 L956.74 400.67 L961.59 388.2 L966.73 375.08 L972.2 361.27 L978.04 346.67 L984.29 331.2 L991.01 314.74 L998.28 297.15 L1006.17 278.27 L1014.79 257.9 L1024.26 235.79 L1034.77 211.59 L1046.54 184.89 L1059.88 155.09 L1075.21 121.39 L1093.17 82.61 L1114.75 36.95 M909.16 642.87 L910.64 638.07 L912.17 633.17 L913.73 628.19 L915.33 623.1 L916.98 617.91 L918.67 612.61 L920.4 607.21 L922.18 601.68 L924.02 596.04 L925.9 590.27 L927.84 584.37 L929.84 578.32 L931.9 572.14 L934.03 565.8 L936.22 559.3 L938.49 552.64 L940.83 545.79 L943.25 538.76 L945.76 531.53 L948.35 524.1 L951.05 516.44 L953.84 508.55 L956.75 500.41 L959.78 492.01 L962.93 483.32 L966.21 474.32 L969.64 465 L973.23 455.34 L976.99 445.29 L980.94 434.84 L985.09 423.95 L989.46 412.57 L994.08 400.67 L998.97 388.2 L1004.15 375.08 L1009.67 361.27 L1015.56 346.67 L1021.87 331.2 L1028.66 314.74 L1036 297.15 L1043.97 278.27 L1052.68 257.9 L1062.26 235.79 L1072.9 211.59 L1084.81 184.89 L1098.31 155.09 L1113.84 121.39 L1132.06 82.61 L1153.96 36.95 M946.02 642.87 L947.49 638.07 L949.01 633.17 L950.56 628.19 L952.15 623.1 L953.78 617.91 L955.46 612.61 L957.19 607.21 L958.96 601.68 L960.78 596.04 L962.65 590.27 L964.58 584.37 L966.57 578.32 L968.62 572.14 L970.73 565.8 L972.91 559.3 L975.17 552.64 L977.49 545.79 L979.9 538.76 L982.4 531.53 L984.98 524.1 L987.67 516.44 L990.45 508.55 L993.34 500.41 L996.36 492.01 L999.49 483.32 L1002.77 474.32 L1006.19 465 L1009.77 455.34 L1013.51 445.29 L1017.45 434.84 L1021.59 423.95 L1025.95 412.57 L1030.55 400.67 L1035.43 388.2 L1040.6 375.08 L1046.11 361.27 L1051.99 346.67 L1058.29 331.2 L1065.08 314.74 L1072.41 297.15 L1080.37 278.27 L1089.08 257.9 L1098.66 235.79 L1109.3 211.59 L1121.22 184.89 L1134.73 155.09 L1150.29 121.39 L1168.54 82.61 L1190.49 36.95 M982.91 642.87 L984.37 638.07 L985.86 633.17 L987.38 628.19 L988.95 623.1 L990.56 617.91 L992.21 612.61 L993.9 607.21 L995.65 601.68 L997.44 596.04 L999.29 590.27 L1001.19 584.37 L1003.15 578.32 L1005.17 572.14 L1007.25 565.8 L1009.4 559.3 L1011.62 552.64 L1013.92 545.79 L1016.29 538.76 L1018.76 531.53 L1021.31 524.1 L1023.95 516.44 L1026.7 508.55 L1029.56 500.41 L1032.53 492.01 L1035.63 483.32 L1038.87 474.32 L1042.25 465 L1045.79 455.34 L1049.49 445.29 L1053.38 434.84 L1057.48 423.95 L1061.79 412.57 L1066.35 400.67 L1071.17 388.2 L1076.3 375.08 L1081.75 361.27 L1087.58 346.67 L1093.82 331.2 L1100.54 314.74 L1107.81 297.15 L1115.71 278.27 L1124.35 257.9 L1133.86 235.79 L1144.42 211.59 L1156.25 184.89 L1169.68 155.09 L1185.14 121.39 L1203.28 82.61 L1225.12 36.95 M1019.84 642.87 L1021.26 638.07 L1022.71 633.17 L1024.2 628.19 L1025.73 623.1 L1027.3 617.91 L1028.91 612.61 L1030.57 607.21 L1032.27 601.68 L1034.02 596.04 L1035.83 590.27 L1037.69 584.37 L1039.6 578.32 L1041.58 572.14 L1043.62 565.8 L1045.72 559.3 L1047.89 552.64 L1050.14 545.79 L1052.47 538.76 L1054.88 531.53 L1057.38 524.1 L1059.98 516.44 L1062.67 508.55 L1065.47 500.41 L1068.39 492.01 L1071.43 483.32 L1074.61 474.32 L1077.92 465 L1081.4 455.34 L1085.04 445.29 L1088.86 434.84 L1092.88 423.95 L1097.13 412.57 L1101.61 400.67 L1106.35 388.2 L1111.39 375.08 L1116.76 361.27 L1122.5 346.67 L1128.65 331.2 L1135.27 314.74 L1142.43 297.15 L1150.22 278.27 L1158.74 257.9 L1168.12 235.79 L1178.54 211.59 L1190.23 184.89 L1203.5 155.09 L1218.78 121.39 L1236.72 82.61 L1258.32 36.95 M1056.79 642.87 L1058.16 638.07 L1059.57 633.17 L1061.01 628.19 L1062.49 623.1 L1064.02 617.91 L1065.58 612.61 L1067.19 607.21 L1068.84 601.68 L1070.54 596.04 L1072.29 590.27 L1074.1 584.37 L1075.96 578.32 L1077.88 572.14 L1079.86 565.8 L1081.9 559.3 L1084.02 552.64 L1086.21 545.79 L1088.47 538.76 L1090.82 531.53 L1093.25 524.1 L1095.78 516.44 L1098.41 508.55 L1101.14 500.41 L1103.98 492.01 L1106.95 483.32 L1110.05 474.32 L1113.29 465 L1116.68 455.34 L1120.23 445.29 L1123.97 434.84 L1127.9 423.95 L1132.05 412.57 L1136.43 400.67 L1141.08 388.2 L1146.01 375.08 L1151.27 361.27 L1156.89 346.67 L1162.91 331.2 L1169.41 314.74 L1176.43 297.15 L1184.08 278.27 L1192.44 257.9 L1201.66 235.79 L1211.9 211.59 L1223.39 184.89 L1236.44 155.09 L1251.48 121.39 L1269.15 82.61 L1290.45 36.95 M1093.76 642.87 L1095.08 638.07 L1096.44 633.17 L1097.82 628.19 L1099.25 623.1 L1100.71 617.91 L1102.22 612.61 L1103.77 607.21 L1105.36 601.68 L1107 596.04 L1108.69 590.27 L1110.43 584.37 L1112.23 578.32 L1114.08 572.14 L1116 565.8 L1117.97 559.3 L1120.02 552.64 L1122.14 545.79 L1124.33 538.76 L1126.6 531.53 L1128.96 524.1 L1131.41 516.44 L1133.95 508.55 L1136.6 500.41 L1139.36 492.01 L1142.24 483.32 L1145.24 474.32 L1148.39 465 L1151.68 455.34 L1155.14 445.29 L1158.77 434.84 L1162.6 423.95 L1166.63 412.57 L1170.9 400.67 L1175.43 388.2 L1180.24 375.08 L1185.36 361.27 L1190.84 346.67 L1196.73 331.2 L1203.07 314.74 L1209.93 297.15 L1217.4 278.27 L1225.58 257.9 L1234.6 235.79 L1244.63 211.59 L1255.89 184.89 L1268.68 155.09 L1283.44 121.39 L1300.79 82.61 L1321.72 36.95 M1130.75 642.87 L1132.01 638.07 L1133.3 633.17 L1134.63 628.19 L1135.99 623.1 L1137.4 617.91 L1138.84 612.61 L1140.32 607.21 L1141.85 601.68 L1143.42 596.04 L1145.04 590.27 L1146.71 584.37 L1148.43 578.32 L1150.21 572.14 L1152.05 565.8 L1153.95 559.3 L1155.92 552.64 L1157.95 545.79 L1160.06 538.76 L1162.25 531.53 L1164.52 524.1 L1166.88 516.44 L1169.33 508.55 L1171.89 500.41 L1174.55 492.01 L1177.33 483.32 L1180.24 474.32 L1183.28 465 L1186.46 455.34 L1189.81 445.29 L1193.33 434.84 L1197.03 423.95 L1200.94 412.57 L1205.08 400.67 L1209.47 388.2 L1214.14 375.08 L1219.12 361.27 L1224.45 346.67 L1230.17 331.2 L1236.34 314.74 L1243.02 297.15 L1250.3 278.27 L1258.27 257.9 L1267.07 235.79 L1276.86 211.59 L1287.86 184.89 L1300.37 155.09 L1314.81 121.39 L1331.8 82.61 L1352.32 36.95 M1167.76 642.87 L1168.95 638.07 L1170.18 633.17 L1171.44 628.19 L1172.73 623.1 L1174.06 617.91 L1175.43 612.61 L1176.84 607.21 L1178.3 601.68 L1179.79 596.04 L1181.34 590.27 L1182.93 584.37 L1184.58 578.32 L1186.27 572.14 L1188.03 565.8 L1189.85 559.3 L1191.73 552.64 L1193.67 545.79 L1195.69 538.76 L1197.79 531.53 L1199.97 524.1 L1202.23 516.44 L1204.58 508.55 L1207.04 500.41 L1209.6 492.01 L1212.27 483.32 L1215.06 474.32 L1217.99 465 L1221.06 455.34 L1224.28 445.29 L1227.67 434.84 L1231.24 423.95 L1235.02 412.57 L1239.02 400.67 L1243.26 388.2 L1247.78 375.08 L1252.59 361.27 L1257.75 346.67 L1263.3 331.2 L1269.28 314.74 L1275.77 297.15 L1282.84 278.27 L1290.59 257.9 L1299.15 235.79 L1308.68 211.59 L1319.4 184.89 L1331.6 155.09 L1345.69 121.39 L1362.3 82.61 L1382.36 36.95 M1204.77 642.87 L1205.9 638.07 L1207.05 633.17 L1208.24 628.19 L1209.46 623.1 L1210.72 617.91 L1212.01 612.61 L1213.35 607.21 L1214.72 601.68 L1216.14 596.04 L1217.6 590.27 L1219.11 584.37 L1220.67 578.32 L1222.28 572.14 L1223.95 565.8 L1225.67 559.3 L1227.46 552.64 L1229.32 545.79 L1231.24 538.76 L1233.24 531.53 L1235.31 524.1 L1237.47 516.44 L1239.72 508.55 L1242.06 500.41 L1244.51 492.01 L1247.07 483.32 L1249.74 474.32 L1252.55 465 L1255.49 455.34 L1258.58 445.29 L1261.84 434.84 L1265.27 423.95 L1268.9 412.57 L1272.75 400.67 L1276.84 388.2 L1281.19 375.08 L1285.83 361.27 L1290.81 346.67 L1296.17 331.2 L1301.96 314.74 L1308.23 297.15 L1315.08 278.27 L1322.59 257.9 L1330.9 235.79 L1340.15 211.59 L1350.57 184.89 L1362.44 155.09 L1376.17 121.39 L1392.36 82.61 L1411.95 36.95 M1241.8 642.87 L1242.85 638.07 L1243.93 633.17 L1245.04 628.19 L1246.18 623.1 L1247.36 617.91 L1248.58 612.61 L1249.83 607.21 L1251.12 601.68 L1252.45 596.04 L1253.83 590.27 L1255.25 584.37 L1256.72 578.32 L1258.24 572.14 L1259.81 565.8 L1261.44 559.3 L1263.13 552.64 L1264.89 545.79 L1266.71 538.76 L1268.6 531.53 L1270.57 524.1 L1272.62 516.44 L1274.76 508.55 L1276.98 500.41 L1279.31 492.01 L1281.75 483.32 L1284.3 474.32 L1286.97 465 L1289.78 455.34 L1292.74 445.29 L1295.85 434.84 L1299.14 423.95 L1302.62 412.57 L1306.3 400.67 L1310.22 388.2 L1314.4 375.08 L1318.87 361.27 L1323.66 346.67 L1328.82 331.2 L1334.4 314.74 L1340.46 297.15 L1347.07 278.27 L1354.33 257.9 L1362.37 235.79 L1371.33 211.59 L1381.44 184.89 L1392.96 155.09 L1406.31 121.39 L1422.07 82.61 L1441.16 36.95 M1278.84 642.87 L1279.81 638.07 L1280.81 633.17 L1281.84 628.19 L1282.9 623.1 L1284 617.91 L1285.13 612.61 L1286.29 607.21 L1287.5 601.68 L1288.74 596.04 L1290.02 590.27 L1291.35 584.37 L1292.73 578.32 L1294.15 572.14 L1295.63 565.8 L1297.16 559.3 L1298.75 552.64 L1300.4 545.79 L1302.11 538.76 L1303.9 531.53 L1305.75 524.1 L1307.69 516.44 L1309.71 508.55 L1311.81 500.41 L1314.02 492.01 L1316.33 483.32 L1318.75 474.32 L1321.28 465 L1323.95 455.34 L1326.76 445.29 L1329.73 434.84 L1332.86 423.95 L1336.18 412.57 L1339.71 400.67 L1343.45 388.2 L1347.45 375.08 L1351.73 361.27 L1356.33 346.67 L1361.28 331.2 L1366.64 314.74 L1372.47 297.15 L1378.84 278.27 L1385.84 257.9 L1393.6 235.79 L1402.26 211.59 L1412.04 184.89 L1423.2 155.09 L1436.15 121.39 L1451.47 82.61 L1470.05 36.95 M1315.88 642.87 L1316.77 638.07 L1317.69 633.17 L1318.64 628.19 L1319.61 623.1 L1320.62 617.91 L1321.67 612.61 L1322.74 607.21 L1323.85 601.68 L1325.01 596.04 L1326.2 590.27 L1327.43 584.37 L1328.71 578.32 L1330.03 572.14 L1331.41 565.8 L1332.83 559.3 L1334.32 552.64 L1335.86 545.79 L1337.46 538.76 L1339.13 531.53 L1340.87 524.1 L1342.69 516.44 L1344.58 508.55 L1346.56 500.41 L1348.64 492.01 L1350.82 483.32 L1353.1 474.32 L1355.5 465 L1358.02 455.34 L1360.68 445.29 L1363.5 434.84 L1366.47 423.95 L1369.62 412.57 L1372.97 400.67 L1376.54 388.2 L1380.36 375.08 L1384.44 361.27 L1388.84 346.67 L1393.57 331.2 L1398.71 314.74 L1404.3 297.15 L1410.41 278.27 L1417.15 257.9 L1424.62 235.79 L1432.97 211.59 L1442.41 184.89 L1453.21 155.09 L1465.75 121.39 L1480.6 82.61 L1498.65 36.95" stroke="#2ca02c" stroke-opacity="0.25" stroke-width="1.667" fill="none" stroke-dasharray="6.167 2.667"/>
<path d="M81.98 642.87 L84 640.1 L86.03 637.3 L88.09 634.47 L90.17 631.61 L92.28 628.71 L94.41 625.79 L96.57 622.83 L98.75 619.83 L100.96 616.8 L103.2 613.74 L105.46 610.63 L107.76 607.49 L110.08 604.31 L112.43 601.09 L114.82 597.83 L117.23 594.53 L119.68 591.19 L122.16 587.8 L124.67 584.37 L127.22 580.88 L129.81 577.36 L132.43 573.78 L135.1 570.15 L137.8 566.47 L140.54 562.74 L143.32 558.95 L146.15 555.11 L149.02 551.21 L151.93 547.25 L154.89 543.22 L157.91 539.14 L160.97 534.98 L164.08 530.76 L167.25 526.47 L170.47 522.11 L173.75 517.67 L177.09 513.15 L180.49 508.55 L183.95 503.87 L187.48 499.1 L191.08 494.24 L194.75 489.29 L198.49 484.24 L202.32 479.09 L206.22 473.84 L210.2 468.48 L214.28 463 L218.44 457.4 L222.7 451.68 M132.22 642.87 L134.18 640.1 L136.17 637.3 L138.17 634.47 L140.2 631.61 L142.26 628.71 L144.33 625.79 L146.44 622.83 L148.56 619.83 L150.72 616.8 L152.9 613.74 L155.11 610.63 L157.34 607.49 L159.61 604.31 L161.9 601.09 L164.22 597.83 L166.58 594.53 L168.97 591.19 L171.39 587.8 L173.84 584.37 L176.33 580.88 L178.85 577.36 L181.41 573.78 L184 570.15 L186.64 566.47 L189.31 562.74 L192.03 558.95 L194.79 555.11 L197.59 551.21 L200.43 547.25 L203.32 543.22 L206.26 539.14 L209.25 534.98 L212.29 530.76 L215.38 526.47 L218.53 522.11 L221.73 517.67 L224.99 513.15 L228.31 508.55 L231.69 503.87 L235.14 499.1 L238.66 494.24 L242.24 489.29 L245.9 484.24 L249.63 479.09 L253.45 473.84 L257.34 468.48 L261.32 463 L265.39 457.4 L269.55 451.68 M185.95 642.87 L187.85 640.1 L189.78 637.3 L191.73 634.47 L193.7 631.61 L195.69 628.71 L197.71 625.79 L199.75 622.83 L201.82 619.83 L203.91 616.8 L206.03 613.74 L208.18 610.63 L210.35 607.49 L212.55 604.31 L214.78 601.09 L217.04 597.83 L219.32 594.53 L221.64 591.19 L224 587.8 L226.38 584.37 L228.8 580.88 L231.25 577.36 L233.74 573.78 L236.26 570.15 L238.82 566.47 L241.43 562.74 L244.07 558.95 L246.75 555.11 L249.47 551.21 L252.24 547.25 L255.05 543.22 L257.91 539.14 L260.82 534.98 L263.78 530.76 L266.79 526.47 L269.85 522.11 L272.96 517.67 L276.14 513.15 L279.37 508.55 L282.66 503.87 L286.02 499.1 L289.44 494.24 L292.94 489.29 L296.5 484.24 L300.13 479.09 L303.85 473.84 L307.64 468.48 L311.52 463 L315.49 457.4 L319.55 451.68 M219.14 642.87 L221.01 640.1 L222.9 637.3 L224.81 634.47 L226.74 631.61 L228.7 628.71 L230.68 625.79 L232.68 622.83 L234.71 619.83 L236.76 616.8 L238.84 613.74 L240.95 610.63 L243.08 607.49 L245.24 604.31 L247.43 601.09 L249.64 597.83 L251.89 594.53 L254.17 591.19 L256.48 587.8 L258.82 584.37 L261.19 580.88 L263.6 577.36 L266.04 573.78 L268.52 570.15 L271.04 566.47 L273.59 562.74 L276.18 558.95 L278.82 555.11 L281.49 551.21 L284.21 547.25 L286.98 543.22 L289.79 539.14 L292.64 534.98 L295.55 530.76 L298.5 526.47 L301.51 522.11 L304.57 517.67 L307.69 513.15 L310.87 508.55 L314.11 503.87 L317.41 499.1 L320.77 494.24 L324.2 489.29 L327.7 484.24 L331.28 479.09 L334.93 473.84 L338.66 468.48 L342.48 463 L346.38 457.4 L350.37 451.68 M262.95 642.87 L264.77 640.1 L266.61 637.3 L268.47 634.47 L270.36 631.61 L272.26 628.71 L274.19 625.79 L276.14 622.83 L278.12 619.83 L280.12 616.8 L282.14 613.74 L284.2 610.63 L286.27 607.49 L288.38 604.31 L290.51 601.09 L292.67 597.83 L294.86 594.53 L297.08 591.19 L299.33 587.8 L301.61 584.37 L303.93 580.88 L306.28 577.36 L308.66 573.78 L311.08 570.15 L313.53 566.47 L316.02 562.74 L318.55 558.95 L321.12 555.11 L323.73 551.21 L326.38 547.25 L329.08 543.22 L331.82 539.14 L334.61 534.98 L337.44 530.76 L340.33 526.47 L343.26 522.11 L346.25 517.67 L349.3 513.15 L352.4 508.55 L355.56 503.87 L358.78 499.1 L362.07 494.24 L365.42 489.29 L368.84 484.24 L372.33 479.09 L375.9 473.84 L379.54 468.48 L383.27 463 L387.08 457.4 L390.98 451.68 M299.42 642.87 L301.19 640.1 L302.99 637.3 L304.81 634.47 L306.65 631.61 L308.52 628.71 L310.4 625.79 L312.31 622.83 L314.24 619.83 L316.19 616.8 L318.17 613.74 L320.18 610.63 L322.21 607.49 L324.27 604.31 L326.35 601.09 L328.47 597.83 L330.61 594.53 L332.78 591.19 L334.98 587.8 L337.21 584.37 L339.48 580.88 L341.77 577.36 L344.1 573.78 L346.47 570.15 L348.87 566.47 L351.31 562.74 L353.78 558.95 L356.3 555.11 L358.85 551.21 L361.45 547.25 L364.08 543.22 L366.77 539.14 L369.5 534.98 L372.27 530.76 L375.1 526.47 L377.97 522.11 L380.9 517.67 L383.88 513.15 L386.92 508.55 L390.01 503.87 L393.17 499.1 L396.39 494.24 L399.67 489.29 L403.02 484.24 L406.45 479.09 L409.94 473.84 L413.51 468.48 L417.17 463 L420.9 457.4 L424.72 451.68 M326.25 642.87 L327.99 640.1 L329.76 637.3 L331.55 634.47 L333.36 631.61 L335.19 628.71 L337.04 625.79 L338.91 622.83 L340.81 619.83 L342.73 616.8 L344.68 613.74 L346.65 610.63 L348.65 607.49 L350.67 604.31 L352.72 601.09 L354.79 597.83 L356.9 594.53 L359.03 591.19 L361.2 587.8 L363.39 584.37 L365.62 580.88 L367.88 577.36 L370.17 573.78 L372.49 570.15 L374.85 566.47 L377.25 562.74 L379.69 558.95 L382.16 555.11 L384.67 551.21 L387.23 547.25 L389.82 543.22 L392.46 539.14 L395.15 534.98 L397.88 530.76 L400.66 526.47 L403.49 522.11 L406.37 517.67 L409.3 513.15 L412.29 508.55 L415.34 503.87 L418.44 499.1 L421.61 494.24 L424.85 489.29 L428.15 484.24 L431.52 479.09 L434.96 473.84 L438.48 468.48 L442.07 463 L445.75 457.4 L449.52 451.68 M365.48 642.87 L367.18 640.1 L368.9 637.3 L370.64 634.47 L372.4 631.61 L374.18 628.71 L375.98 625.79 L377.81 622.83 L379.66 619.83 L381.53 616.8 L383.42 613.74 L385.34 610.63 L387.29 607.49 L389.26 604.31 L391.25 601.09 L393.28 597.83 L395.33 594.53 L397.41 591.19 L399.52 587.8 L401.66 584.37 L403.82 580.88 L406.03 577.36 L408.26 573.78 L410.53 570.15 L412.83 566.47 L415.17 562.74 L417.54 558.95 L419.95 555.11 L422.4 551.21 L424.89 547.25 L427.43 543.22 L430 539.14 L432.62 534.98 L435.29 530.76 L438 526.47 L440.76 522.11 L443.57 517.67 L446.43 513.15 L449.35 508.55 L452.33 503.87 L455.36 499.1 L458.45 494.24 L461.61 489.29 L464.83 484.24 L468.13 479.09 L471.49 473.84 L474.92 468.48 L478.44 463 L482.03 457.4 L485.71 451.68 M394.36 642.87 L396.02 640.1 L397.71 637.3 L399.41 634.47 L401.14 631.61 L402.88 628.71 L404.65 625.79 L406.44 622.83 L408.25 619.83 L410.08 616.8 L411.94 613.74 L413.82 610.63 L415.73 607.49 L417.66 604.31 L419.61 601.09 L421.6 597.83 L423.61 594.53 L425.65 591.19 L427.71 587.8 L429.81 584.37 L431.94 580.88 L434.1 577.36 L436.29 573.78 L438.51 570.15 L440.77 566.47 L443.06 562.74 L445.39 558.95 L447.75 555.11 L450.16 551.21 L452.6 547.25 L455.09 543.22 L457.61 539.14 L460.18 534.98 L462.8 530.76 L465.46 526.47 L468.17 522.11 L470.93 517.67 L473.74 513.15 L476.61 508.55 L479.53 503.87 L482.51 499.1 L485.54 494.24 L488.64 489.29 L491.81 484.24 L495.04 479.09 L498.34 473.84 L501.72 468.48 L505.17 463 L508.7 457.4 L512.32 451.68 M436.6 642.87 L438.21 640.1 L439.84 637.3 L441.49 634.47 L443.16 631.61 L444.86 628.71 L446.57 625.79 L448.3 622.83 L450.06 619.83 L451.83 616.8 L453.63 613.74 L455.46 610.63 L457.31 607.49 L459.18 604.31 L461.07 601.09 L463 597.83 L464.95 594.53 L466.93 591.19 L468.93 587.8 L470.97 584.37 L473.03 580.88 L475.13 577.36 L477.25 573.78 L479.41 570.15 L481.6 566.47 L483.83 562.74 L486.09 558.95 L488.38 555.11 L490.72 551.21 L493.09 547.25 L495.51 543.22 L497.96 539.14 L500.46 534.98 L503 530.76 L505.59 526.47 L508.22 522.11 L510.9 517.67 L513.64 513.15 L516.42 508.55 L519.26 503.87 L522.16 499.1 L525.11 494.24 L528.13 489.29 L531.21 484.24 L534.35 479.09 L537.56 473.84 L540.85 468.48 L544.21 463 L547.65 457.4 L551.17 451.68 M467.69 642.87 L469.26 640.1 L470.85 637.3 L472.46 634.47 L474.09 631.61 L475.74 628.71 L477.41 625.79 L479.11 622.83 L480.82 619.83 L482.55 616.8 L484.31 613.74 L486.09 610.63 L487.9 607.49 L489.73 604.31 L491.58 601.09 L493.46 597.83 L495.36 594.53 L497.29 591.19 L499.25 587.8 L501.24 584.37 L503.26 580.88 L505.3 577.36 L507.38 573.78 L509.49 570.15 L511.63 566.47 L513.81 562.74 L516.02 558.95 L518.27 555.11 L520.55 551.21 L522.87 547.25 L525.23 543.22 L527.63 539.14 L530.07 534.98 L532.56 530.76 L535.09 526.47 L537.66 522.11 L540.29 517.67 L542.96 513.15 L545.69 508.55 L548.47 503.87 L551.3 499.1 L554.2 494.24 L557.15 489.29 L560.16 484.24 L563.24 479.09 L566.39 473.84 L569.61 468.48 L572.9 463 L576.27 457.4 L579.72 451.68 M492.45 642.87 L493.99 640.1 L495.55 637.3 L497.13 634.47 L498.73 631.61 L500.35 628.71 L501.98 625.79 L503.64 622.83 L505.32 619.83 L507.02 616.8 L508.75 613.74 L510.49 610.63 L512.26 607.49 L514.05 604.31 L515.87 601.09 L517.71 597.83 L519.58 594.53 L521.48 591.19 L523.4 587.8 L525.35 584.37 L527.33 580.88 L529.33 577.36 L531.37 573.78 L533.44 570.15 L535.55 566.47 L537.68 562.74 L539.85 558.95 L542.05 555.11 L544.29 551.21 L546.57 547.25 L548.89 543.22 L551.25 539.14 L553.64 534.98 L556.09 530.76 L558.57 526.47 L561.1 522.11 L563.68 517.67 L566.31 513.15 L568.98 508.55 L571.71 503.87 L574.5 499.1 L577.34 494.24 L580.24 489.29 L583.2 484.24 L586.23 479.09 L589.32 473.84 L592.49 468.48 L595.72 463 L599.04 457.4 L602.43 451.68 M522.3 642.87 L523.8 640.1 L525.32 637.3 L526.86 634.47 L528.42 631.61 L530 628.71 L531.59 625.79 L533.21 622.83 L534.85 619.83 L536.51 616.8 L538.19 613.74 L539.89 610.63 L541.62 607.49 L543.37 604.31 L545.14 601.09 L546.94 597.83 L548.76 594.53 L550.61 591.19 L552.49 587.8 L554.39 584.37 L556.32 580.88 L558.28 577.36 L560.28 573.78 L562.3 570.15 L564.35 566.47 L566.44 562.74 L568.55 558.95 L570.71 555.11 L572.9 551.21 L575.12 547.25 L577.39 543.22 L579.69 539.14 L582.04 534.98 L584.42 530.76 L586.85 526.47 L589.33 522.11 L591.85 517.67 L594.41 513.15 L597.03 508.55 L599.7 503.87 L602.43 499.1 L605.21 494.24 L608.05 489.29 L610.95 484.24 L613.91 479.09 L616.94 473.84 L620.03 468.48 L623.2 463 L626.44 457.4 L629.77 451.68 M546.47 642.87 L547.95 640.1 L549.43 637.3 L550.94 634.47 L552.47 631.61 L554.01 628.71 L555.58 625.79 L557.16 622.83 L558.76 619.83 L560.39 616.8 L562.03 613.74 L563.7 610.63 L565.39 607.49 L567.11 604.31 L568.85 601.09 L570.61 597.83 L572.39 594.53 L574.21 591.19 L576.04 587.8 L577.91 584.37 L579.8 580.88 L581.73 577.36 L583.68 573.78 L585.66 570.15 L587.67 566.47 L589.72 562.74 L591.79 558.95 L593.91 555.11 L596.05 551.21 L598.24 547.25 L600.46 543.22 L602.72 539.14 L605.02 534.98 L607.36 530.76 L609.74 526.47 L612.17 522.11 L614.64 517.67 L617.17 513.15 L619.74 508.55 L622.36 503.87 L625.03 499.1 L627.76 494.24 L630.55 489.29 L633.4 484.24 L636.31 479.09 L639.28 473.84 L642.32 468.48 L645.44 463 L648.62 457.4 L651.88 451.68 M572.99 642.87 L574.43 640.1 L575.88 637.3 L577.35 634.47 L578.84 631.61 L580.35 628.71 L581.88 625.79 L583.42 622.83 L584.99 619.83 L586.58 616.8 L588.19 613.74 L589.82 610.63 L591.47 607.49 L593.14 604.31 L594.84 601.09 L596.56 597.83 L598.31 594.53 L600.08 591.19 L601.87 587.8 L603.7 584.37 L605.55 580.88 L607.43 577.36 L609.34 573.78 L611.27 570.15 L613.24 566.47 L615.24 562.74 L617.27 558.95 L619.34 555.11 L621.44 551.21 L623.58 547.25 L625.75 543.22 L627.96 539.14 L630.21 534.98 L632.5 530.76 L634.83 526.47 L637.21 522.11 L639.63 517.67 L642.1 513.15 L644.62 508.55 L647.19 503.87 L649.81 499.1 L652.48 494.24 L655.21 489.29 L658 484.24 L660.85 479.09 L663.77 473.84 L666.75 468.48 L669.8 463 L672.92 457.4 L676.12 451.68 M600.05 642.87 L601.45 640.1 L602.87 637.3 L604.3 634.47 L605.75 631.61 L607.22 628.71 L608.71 625.79 L610.22 622.83 L611.75 619.83 L613.29 616.8 L614.86 613.74 L616.45 610.63 L618.06 607.49 L619.7 604.31 L621.35 601.09 L623.03 597.83 L624.74 594.53 L626.46 591.19 L628.22 587.8 L630 584.37 L631.8 580.88 L633.64 577.36 L635.5 573.78 L637.39 570.15 L639.32 566.47 L641.27 562.74 L643.25 558.95 L645.27 555.11 L647.32 551.21 L649.41 547.25 L651.54 543.22 L653.7 539.14 L655.9 534.98 L658.14 530.76 L660.42 526.47 L662.74 522.11 L665.11 517.67 L667.52 513.15 L669.98 508.55 L672.5 503.87 L675.06 499.1 L677.68 494.24 L680.35 489.29 L683.08 484.24 L685.87 479.09 L688.72 473.84 L691.64 468.48 L694.62 463 L697.68 457.4 L700.82 451.68 M622.54 642.87 L623.9 640.1 L625.29 637.3 L626.69 634.47 L628.11 631.61 L629.55 628.71 L631.01 625.79 L632.48 622.83 L633.98 619.83 L635.49 616.8 L637.03 613.74 L638.58 610.63 L640.16 607.49 L641.76 604.31 L643.38 601.09 L645.02 597.83 L646.69 594.53 L648.38 591.19 L650.1 587.8 L651.85 584.37 L653.62 580.88 L655.41 577.36 L657.24 573.78 L659.09 570.15 L660.97 566.47 L662.89 562.74 L664.83 558.95 L666.81 555.11 L668.82 551.21 L670.87 547.25 L672.95 543.22 L675.07 539.14 L677.23 534.98 L679.42 530.76 L681.66 526.47 L683.94 522.11 L686.26 517.67 L688.63 513.15 L691.05 508.55 L693.51 503.87 L696.03 499.1 L698.59 494.24 L701.22 489.29 L703.9 484.24 L706.63 479.09 L709.44 473.84 L712.3 468.48 L715.23 463 L718.24 457.4 L721.32 451.68 M645.34 642.87 L646.67 640.1 L648.03 637.3 L649.4 634.47 L650.78 631.61 L652.19 628.71 L653.61 625.79 L655.05 622.83 L656.52 619.83 L658 616.8 L659.5 613.74 L661.02 610.63 L662.56 607.49 L664.12 604.31 L665.71 601.09 L667.32 597.83 L668.95 594.53 L670.61 591.19 L672.29 587.8 L673.99 584.37 L675.72 580.88 L677.48 577.36 L679.27 573.78 L681.08 570.15 L682.93 566.47 L684.8 562.74 L686.71 558.95 L688.64 555.11 L690.61 551.21 L692.62 547.25 L694.66 543.22 L696.73 539.14 L698.84 534.98 L701 530.76 L703.19 526.47 L705.42 522.11 L707.7 517.67 L710.02 513.15 L712.39 508.55 L714.8 503.87 L717.27 499.1 L719.79 494.24 L722.36 489.29 L724.99 484.24 L727.67 479.09 L730.42 473.84 L733.23 468.48 L736.11 463 L739.06 457.4 L742.08 451.68" stroke="#1e90ff" stroke-width="1.667" fill="none" stroke-dasharray="1.667 2.750"/>
</g>
<g clip-path="url(#ax)" fill="none" stroke-width="2.500" stroke-linejoin="round" stroke-linecap="butt">
<path d="M418.97 623.5 C418.15 622.98 417.31 622.48 416.5 621.95 C415.68 621.42 414.86 620.89 414.07 620.32 C413.27 619.76 412.48 619.19 411.72 618.59 C410.96 617.99 410.21 617.38 409.49 616.73 C408.78 616.09 408.08 615.43 407.42 614.73 C406.77 614.04 406.14 613.32 405.56 612.57 C404.97 611.82 404.42 611.04 403.93 610.23 C403.43 609.41 402.99 608.55 402.58 607.68 C402.16 606.81 401.82 605.89 401.41 605 C401.01 604.12 400.63 603.22 400.17 602.37 C399.7 601.53 399.17 600.73 398.62 599.94 C398.07 599.16 397.47 598.41 396.87 597.66 C396.27 596.9 395.64 596.16 395.03 595.42 C394.41 594.68 393.77 593.95 393.16 593.21 C392.54 592.46 391.91 591.72 391.31 590.97 C390.7 590.21 390.1 589.45 389.53 588.67 C388.96 587.89 388.41 587.1 387.88 586.29 C387.36 585.48 386.86 584.64 386.36 583.81 C385.87 582.98 385.39 582.13 384.89 581.29 C384.4 580.46 383.91 579.62 383.38 578.8 C382.86 577.98 382.34 577.17 381.77 576.39 C381.2 575.61 380.61 574.85 379.97 574.13 C379.33 573.41 378.66 572.72 377.94 572.08 C377.21 571.44 376.36 570.9 375.6 570.3 C374.86 569.72 374.19 569.1 373.42 568.54 C372.62 567.97 371.76 567.45 370.91 566.93 C370.04 566.39 369.14 565.88 368.27 565.34 C367.4 564.8 366.51 564.27 365.69 563.67 C364.89 563.09 364.08 562.49 363.38 561.82 C362.7 561.15 362.03 560.44 361.53 559.65 C361.04 558.88 360.58 558.01 360.4 557.14 C360.22 556.26 360.18 555.28 360.42 554.39 C360.68 553.42 361.62 552.53 362.04 551.57 C362.44 550.67 362.69 549.74 362.9 548.8 C363.1 547.87 363.08 546.88 363.28 545.95 C363.47 545.03 363.75 544.12 364.05 543.23 C364.36 542.34 364.73 541.47 365.11 540.6 C365.49 539.72 365.92 538.86 366.32 537.99 C366.72 537.11 367.15 536.25 367.51 535.36 C367.87 534.48 368.22 533.59 368.47 532.68 C368.73 531.78 368.94 530.85 369.03 529.92 C369.12 529.01 369.15 528.07 369.02 527.17 C368.89 526.26 368.66 525.34 368.27 524.5 C367.86 523.62 367.25 522.75 366.6 522 C365.96 521.26 365.07 520.72 364.4 520.02 C363.75 519.33 363.16 518.6 362.64 517.83 C362.12 517.08 361.66 516.29 361.26 515.47 C360.87 514.66 360.54 513.82 360.26 512.96 C359.98 512.11 359.76 511.22 359.58 510.34 C359.4 509.44 359.28 508.53 359.2 507.61 C359.12 506.69 359.09 505.75 359.09 504.82 C359.09 503.87 359.13 502.93 359.2 501.98 C359.28 501.03 359.39 500.07 359.52 499.13 C359.65 498.18 359.82 497.23 360 496.28 C360.18 495.34 360.39 494.4 360.61 493.47 C360.83 492.55 361.07 491.63 361.32 490.72 C361.57 489.82 361.83 488.93 362.1 488.06 C362.36 487.19 362.8 486.4 362.9 485.5 C363 484.54 362.73 483.48 362.62 482.47 C362.51 481.47 362.38 480.48 362.22 479.49 C362.07 478.5 361.9 477.52 361.72 476.54 C361.53 475.57 361.32 474.6 361.1 473.64 C360.88 472.68 360.64 471.73 360.39 470.78 C360.13 469.83 359.86 468.89 359.58 467.95 C359.3 467.01 359 466.08 358.68 465.15 C358.37 464.23 358.05 463.3 357.71 462.39 C357.37 461.47 357.02 460.56 356.66 459.65 C356.29 458.74 355.92 457.84 355.53 456.94 C355.15 456.04 354.75 455.15 354.35 454.26 C353.94 453.37 353.53 452.48 353.1 451.59 C352.68 450.71 352.25 449.83 351.81 448.95 C351.37 448.07 350.92 447.2 350.47 446.32 C350.01 445.45 349.55 444.58 349.08 443.71 C348.62 442.84 348.14 441.98 347.67 441.11 C347.19 440.25 346.71 439.39 346.22 438.52 C345.74 437.66 345.25 436.8 344.76 435.94 C344.27 435.08 343.77 434.23 343.28 433.37 C342.78 432.51 342.28 431.65 341.79 430.8 C341.29 429.94 340.79 429.08 340.29 428.23 C339.79 427.37 339.29 426.51 338.8 425.65 C338.3 424.79 337.8 423.94 337.31 423.08 C336.82 422.22 336.33 421.36 335.84 420.5 C335.35 419.63 334.87 418.77 334.39 417.91 C333.91 417.04 333.43 416.17 332.96 415.3 C332.49 414.44 332.02 413.57 331.56 412.69 C331.11 411.82 330.65 410.94 330.21 410.06 C329.76 409.18 329.32 408.3 328.89 407.42 C328.46 406.53 328.04 405.65 327.62 404.76 C327.2 403.87 326.79 402.97 326.38 402.08 C325.96 401.19 325.56 400.29 325.15 399.4 C324.75 398.5 324.35 397.61 323.94 396.71 C323.54 395.81 323.14 394.91 322.74 394.02 C322.34 393.12 321.94 392.22 321.53 391.32 C321.12 390.43 320.72 389.53 320.3 388.64 C319.89 387.74 319.48 386.85 319.06 385.96 C318.64 385.07 318.21 384.18 317.78 383.29 C317.35 382.4 316.92 381.51 316.48 380.63 C316.05 379.74 315.61 378.86 315.17 377.97 C314.73 377.09 314.29 376.2 313.84 375.32 C313.4 374.44 312.96 373.55 312.51 372.67 C312.07 371.79 311.63 370.9 311.19 370.02 C310.74 369.14 310.3 368.26 309.87 367.37 C309.43 366.49 308.99 365.61 308.56 364.72 C308.14 363.83 307.71 362.95 307.3 362.06 C306.89 361.17 306.48 360.27 306.09 359.38 C305.7 358.48 305.32 357.58 304.96 356.67 C304.59 355.77 304.24 354.86 303.92 353.94 C303.59 353.03 303.28 352.1 302.99 351.18 C302.71 350.25 302.44 349.31 302.2 348.37 C301.96 347.42 301.75 346.47 301.56 345.51 C301.38 344.55 300.99 343.55 301.1 342.6 C301.21 341.62 301.83 340.64 302.26 339.71 C302.69 338.79 303.15 337.9 303.65 337.04 C304.15 336.19 304.68 335.37 305.25 334.58 C305.81 333.8 306.41 333.04 307.04 332.31 C307.66 331.59 308.32 330.89 309 330.22 C309.68 329.55 310.39 328.91 311.12 328.29 C311.85 327.67 312.61 327.07 313.38 326.5 C314.16 325.92 314.96 325.37 315.77 324.83 C316.59 324.29 317.42 323.78 318.26 323.27 C319.11 322.77 319.98 322.28 320.85 321.81 C321.73 321.33 322.62 320.87 323.51 320.42 C324.41 319.96 325.32 319.52 326.23 319.09 C327.15 318.65 328.07 318.22 328.99 317.8 C329.92 317.37 330.85 316.96 331.78 316.54 C332.71 316.12 333.64 315.7 334.57 315.28 C335.5 314.87 336.44 314.45 337.36 314.02 C338.29 313.6 339.21 313.17 340.13 312.74 C341.05 312.31 341.96 311.88 342.88 311.44 C343.79 311.01 344.7 310.57 345.6 310.12 C346.51 309.68 347.41 309.23 348.31 308.78 C349.21 308.33 350.11 307.88 351 307.42 C351.89 306.97 352.78 306.51 353.67 306.05 C354.56 305.59 355.45 305.12 356.33 304.66 C357.21 304.19 358.1 303.72 358.97 303.25 C359.85 302.77 360.73 302.3 361.6 301.82 C362.48 301.34 363.35 300.86 364.22 300.38 C365.09 299.9 365.96 299.42 366.83 298.93 C367.69 298.44 368.56 297.95 369.42 297.46 C370.28 296.97 371.15 296.48 372.01 295.98 C372.87 295.49 373.73 294.99 374.58 294.49 C375.44 293.99 376.3 293.49 377.15 292.99 C378.01 292.49 378.86 291.98 379.71 291.48 C380.57 290.97 381.42 290.47 382.27 289.96 C383.12 289.45 383.97 288.94 384.82 288.43 C385.67 287.91 386.52 287.4 387.37 286.89 C388.22 286.37 389.07 285.86 389.92 285.34 C390.77 284.82 391.61 284.31 392.46 283.79 C393.31 283.27 394.16 282.75 395 282.23 C395.85 281.71 396.7 281.19 397.55 280.67 C398.4 280.14 399.25 279.62 400.09 279.1 C400.94 278.57 401.79 278.05 402.64 277.52 C403.48 276.99 404.33 276.47 405.18 275.94 C406.02 275.41 406.87 274.88 407.72 274.35 C408.56 273.81 409.41 273.28 410.25 272.75 C411.1 272.21 411.94 271.68 412.79 271.14 C413.63 270.6 414.47 270.06 415.31 269.52 C416.16 268.98 417 268.44 417.84 267.89 C418.68 267.35 419.52 266.8 420.35 266.26 C421.19 265.71 422.03 265.16 422.86 264.61 C423.7 264.05 424.53 263.5 425.36 262.94 C426.2 262.39 427.03 261.83 427.86 261.27 C428.69 260.71 429.51 260.14 430.34 259.58 C431.17 259.01 431.99 258.45 432.82 257.88 C433.64 257.31 434.46 256.73 435.28 256.16 C436.1 255.58 436.91 255.01 437.73 254.42 C438.54 253.84 439.36 253.26 440.17 252.67 C440.98 252.09 441.79 251.5 442.6 250.91 C443.4 250.32 444.21 249.72 445.01 249.12 C445.81 248.53 446.61 247.93 447.4 247.32 C448.2 246.72 449 246.11 449.79 245.5 C450.58 244.89 451.37 244.28 452.15 243.66 C452.94 243.04 453.72 242.42 454.5 241.8 C455.28 241.17 456.06 240.55 456.83 239.91 C457.61 239.28 458.38 238.65 459.15 238.01 C459.91 237.37 460.68 236.73 461.44 236.08 C462.2 235.44 462.96 234.79 463.71 234.13 C464.46 233.48 465.21 232.82 465.96 232.16 C466.7 231.49 467.44 230.82 468.17 230.15 C468.91 229.48 469.64 228.8 470.36 228.11 C471.08 227.43 471.8 226.74 472.52 226.04 C473.23 225.34 473.93 224.64 474.63 223.93 C475.33 223.22 476.03 222.51 476.71 221.79 C477.4 221.07 478.08 220.34 478.75 219.6 C479.42 218.87 480.09 218.13 480.75 217.38 C481.4 216.63 482.05 215.87 482.69 215.1 C483.33 214.34 483.96 213.57 484.59 212.79 C485.21 212.01 485.83 211.22 486.44 210.43 C487.05 209.63 487.66 208.83 488.26 208.03 C488.86 207.23 489.46 206.43 490.06 205.63 C490.66 204.82 491.26 204.02 491.86 203.21 C492.45 202.41 493.05 201.61 493.66 200.81 C494.26 200.01 494.86 199.22 495.48 198.43 C496.09 197.64 496.71 196.85 497.33 196.08 C497.96 195.3 498.59 194.53 499.23 193.77 C499.88 193.01 500.53 192.26 501.19 191.52 C501.86 190.79 502.54 190.06 503.23 189.35 C503.92 188.64 504.63 187.94 505.35 187.26 C506.06 186.57 506.8 185.9 507.54 185.24 C508.29 184.58 509.05 183.94 509.82 183.3 C510.58 182.66 511.36 182.04 512.15 181.42 C512.94 180.8 513.74 180.19 514.54 179.59 C515.35 178.99 516.16 178.4 516.97 177.81 C517.79 177.22 518.62 176.64 519.44 176.06 C520.27 175.48 521.11 174.91 521.94 174.34 C522.78 173.77 523.62 173.21 524.45 172.64 C525.29 172.08 526.14 171.52 526.98 170.96 C527.82 170.39 528.66 169.83 529.5 169.27 C530.33 168.7 531.17 168.14 532.01 167.57 C532.84 167.01 533.67 166.44 534.5 165.86 C535.32 165.29 536.14 164.71 536.96 164.13 C537.77 163.54 538.58 162.95 539.38 162.36 C540.18 161.76 540.98 161.16 541.76 160.55 C542.54 159.93 543.32 159.32 544.08 158.68 C544.84 158.05 545.59 157.42 546.33 156.76 C547.07 156.11 547.8 155.45 548.51 154.77 C549.22 154.1 549.92 153.41 550.61 152.71 C551.29 152.01 551.96 151.29 552.61 150.56 C553.26 149.83 553.9 149.08 554.53 148.33 C555.15 147.57 555.76 146.8 556.37 146.02 C556.97 145.25 557.56 144.46 558.13 143.66 C558.72 142.86 559.28 142.05 559.85 141.24 C560.41 140.42 560.96 139.6 561.51 138.77 C562.05 137.94 562.59 137.1 563.13 136.26 C563.66 135.42 564.19 134.58 564.72 133.73 C565.25 132.88 565.77 132.03 566.29 131.17 C566.81 130.32 567.33 129.46 567.85 128.6 C568.37 127.74 568.89 126.89 569.41 126.03 C569.93 125.17 570.45 124.31 570.97 123.46 C571.5 122.61 572.03 121.75 572.56 120.9 C573.09 120.06 573.63 119.21 574.17 118.37 C574.71 117.53 575.26 116.69 575.82 115.86 C576.37 115.04 576.94 114.21 577.51 113.4 C578.09 112.58 578.67 111.78 579.26 110.98 C579.85 110.18 580.45 109.38 581.06 108.6 C581.67 107.81 582.28 107.03 582.91 106.26 C583.53 105.49 584.16 104.72 584.8 103.96 C585.44 103.2 586.09 102.45 586.74 101.7 C587.39 100.95 588.05 100.2 588.71 99.46 C589.38 98.72 590.05 97.99 590.72 97.26 C591.4 96.53 592.08 95.81 592.76 95.08 C593.45 94.36 594.14 93.65 594.83 92.93 C595.53 92.22 596.23 91.51 596.93 90.8 C597.63 90.09 598.34 89.39 599.05 88.68 C599.76 87.98 600.47 87.28 601.18 86.59 C601.9 85.89 602.62 85.19 603.34 84.5 C604.05 83.81 604.78 83.11 605.5 82.42 C606.22 81.73 606.95 81.04 607.67 80.35 C608.4 79.66 609.12 78.97 609.85 78.29 C610.58 77.6 611.3 76.91 612.03 76.22 C612.75 75.53 613.48 74.84 614.21 74.15 C614.93 73.46 615.66 72.77 616.38 72.08 C617.1 71.39 617.83 70.7 618.55 70 C619.27 69.31 619.98 68.61 620.7 67.91 C621.42 67.21 622.13 66.51 622.84 65.81 C623.55 65.11 624.26 64.4 624.96 63.69 C625.66 62.98 626.37 62.27 627.06 61.55 C627.76 60.84 628.45 60.12 629.14 59.4 C629.82 58.67 630.51 57.95 631.18 57.21 C631.86 56.48 632.53 55.74 633.2 55 C633.87 54.26 634.53 53.51 635.18 52.76 C635.84 52.01 636.48 51.25 637.12 50.49 C637.77 49.72 638.4 48.96 639.03 48.18 C639.65 47.4 640.27 46.62 640.88 45.83 C641.5 45.04 642.1 44.25 642.69 43.44 C643.29 42.64 643.87 41.83 644.45 41.01 C645.03 40.19 645.6 39.36 646.15 38.53 C646.71 37.69 647.25 36.84 647.8 36" stroke="#ff0000"/>
<path d="M392.6 623.5 C392.1 622.63 391.27 621.84 391.1 620.9 C390.92 619.94 391.38 618.9 391.6 617.8 C391.86 616.52 392.83 614.83 392.6 613.7 C392.41 612.75 391.47 612.09 390.83 611.34 C390.19 610.59 389.48 609.88 388.77 609.19 C388.05 608.48 387.29 607.82 386.56 607.14 C385.82 606.46 385.06 605.8 384.34 605.1 C383.62 604.4 382.91 603.7 382.25 602.97 C381.59 602.23 380.96 601.47 380.37 600.69 C379.78 599.91 379.23 599.1 378.72 598.27 C378.21 597.44 377.74 596.59 377.32 595.71 C376.89 594.83 376.51 593.93 376.17 593.01 C375.83 592.09 375.56 591.13 375.27 590.19 C374.98 589.23 374.73 588.26 374.43 587.31 C374.13 586.35 373.8 585.4 373.49 584.45 C373.17 583.5 372.82 582.56 372.53 581.61 C372.25 580.67 371.95 579.72 371.77 578.77 C371.59 577.83 371.43 576.87 371.46 575.92 C371.48 574.98 371.6 574.01 371.92 573.09 C372.26 572.13 373.52 571.17 373.5 570.3 C373.48 569.51 372.69 568.74 372.12 568.07 C371.53 567.38 370.76 566.8 370.01 566.23 C369.23 565.64 368.34 565.14 367.5 564.6 C366.65 564.06 365.76 563.56 364.94 562.99 C364.15 562.44 363.34 561.89 362.68 561.24 C362.05 560.61 361.43 559.92 361.05 559.16 C360.68 558.41 360.43 557.55 360.4 556.72 C360.35 555.86 360.6 554.95 360.85 554.08 C361.1 553.17 361.55 552.27 361.9 551.39 C362.24 550.52 363.14 549.45 362.9 548.8 C362.66 548.15 361.24 547.99 360.48 547.46 C359.69 546.93 358.94 546.28 358.27 545.59 C357.6 544.9 356.97 544.13 356.45 543.33 C355.95 542.55 355.5 541.7 355.2 540.84 C354.92 540 354.72 539.11 354.7 538.25 C354.68 537.41 354.83 536.54 355.09 535.73 C355.35 534.89 355.8 534.08 356.28 533.31 C356.78 532.51 357.42 531.76 358.05 531.02 C358.71 530.27 359.44 529.56 360.17 528.87 C360.89 528.17 361.67 527.51 362.4 526.85 C363.12 526.22 363.85 525.61 364.52 524.99 C365.15 524.42 366.26 523.93 366.3 523.3 C366.34 522.62 365.05 521.82 364.49 521.05 C363.93 520.28 363.41 519.48 362.94 518.67 C362.47 517.85 362.04 517.02 361.66 516.17 C361.28 515.32 360.94 514.45 360.64 513.58 C360.34 512.7 360.09 511.81 359.88 510.91 C359.67 510.01 359.5 509.09 359.38 508.18 C359.25 507.26 359.17 506.33 359.12 505.41 C359.08 504.48 359.08 503.55 359.13 502.62 C359.17 501.68 359.25 500.75 359.37 499.82 C359.48 498.88 359.64 497.95 359.81 497.03 C359.98 496.1 360.19 495.17 360.41 494.25 C360.62 493.33 360.86 492.41 361.1 491.49 C361.34 490.58 361.6 489.68 361.85 488.78 C362.1 487.88 362.91 486.72 362.6 486.1 C362.28 485.46 360.75 485.39 359.82 485.04 C358.89 484.7 357.96 484.37 357.03 484.04 C356.09 483.71 355.16 483.39 354.22 483.08 C353.28 482.77 352.34 482.46 351.39 482.17 C350.45 481.87 349.5 481.58 348.55 481.3 C347.61 481.02 346.66 480.74 345.7 480.48 C344.75 480.21 343.79 479.95 342.84 479.69 C341.88 479.44 340.92 479.19 339.96 478.95 C339 478.71 338.04 478.48 337.07 478.25 C336.11 478.02 335.15 477.8 334.18 477.59 C333.21 477.37 332.24 477.17 331.27 476.96 C330.3 476.76 329.33 476.56 328.36 476.37 C327.38 476.18 326.41 476 325.43 475.82 C324.46 475.64 323.48 475.46 322.5 475.29 C321.53 475.12 320.55 474.96 319.57 474.8 C318.59 474.64 317.61 474.49 316.63 474.34 C315.65 474.19 314.66 474.05 313.68 473.9 C312.7 473.76 311.72 473.62 310.73 473.48 C309.75 473.34 308.77 473.2 307.79 473.05 C306.81 472.9 305.83 472.76 304.85 472.6 C303.88 472.45 302.9 472.29 301.93 472.11 C300.96 471.94 299.98 471.77 299.02 471.57 C298.05 471.38 297.08 471.18 296.12 470.96 C295.16 470.75 294.2 470.52 293.25 470.27 C292.3 470.02 291.35 469.75 290.41 469.46 C289.46 469.17 287.65 468.92 287.6 468.5 C287.55 468.08 289.29 467.5 290.08 466.93 C290.87 466.35 291.6 465.71 292.33 465.05 C293.06 464.4 293.75 463.69 294.45 463.01 C295.16 462.32 295.83 461.6 296.54 460.92 C297.24 460.24 297.94 459.55 298.68 458.93 C299.42 458.3 300.18 457.7 300.98 457.16 C301.77 456.62 302.62 456.14 303.47 455.69 C304.33 455.24 305.23 454.84 306.12 454.44 C307.01 454.04 307.93 453.68 308.84 453.3 C309.75 452.92 310.67 452.56 311.57 452.17 C312.46 451.77 313.36 451.38 314.23 450.93 C315.09 450.48 315.94 450.01 316.75 449.49 C317.56 448.97 318.34 448.42 319.08 447.81 C319.81 447.21 320.51 446.56 321.15 445.86 C321.79 445.16 322.39 444.41 322.92 443.61 C323.45 442.8 323.93 441.93 324.32 441.03 C324.72 440.1 325.34 439.03 325.3 438.1 C325.27 437.23 324.72 436.35 324.25 435.61 C323.77 434.88 323.13 434.25 322.46 433.68 C321.76 433.09 320.94 432.6 320.12 432.14 C319.26 431.66 318.33 431.26 317.41 430.85 C316.46 430.44 315.48 430.07 314.51 429.67 C313.54 429.26 312.55 428.88 311.6 428.44 C310.67 428 309.73 427.54 308.86 427.01 C308.01 426.49 307.18 425.94 306.45 425.3 C305.72 424.68 305.04 423.99 304.49 423.23 C303.93 422.47 303.45 421.62 303.12 420.72 C302.78 419.78 302.28 418.59 302.5 417.7 C302.72 416.83 303.76 416.21 304.39 415.45 C305.04 414.67 305.7 413.89 306.33 413.09 C306.96 412.28 307.59 411.46 308.16 410.62 C308.72 409.79 309.27 408.94 309.73 408.06 C310.18 407.2 310.6 406.32 310.9 405.41 C311.2 404.52 311.41 403.61 311.53 402.69 C311.65 401.77 311.65 400.83 311.61 399.89 C311.56 398.94 311.43 397.99 311.27 397.04 C311.11 396.08 310.88 395.12 310.65 394.15 C310.43 393.18 310.15 392.21 309.9 391.24 C309.65 390.27 309.37 389.29 309.14 388.31 C308.91 387.34 308.69 386.37 308.52 385.39 C308.34 384.43 308.21 383.46 308.09 382.49 C307.97 381.52 307.89 380.55 307.81 379.59 C307.74 378.63 307.68 377.66 307.63 376.7 C307.57 375.74 307.53 374.78 307.48 373.82 C307.42 372.86 307.37 371.9 307.3 370.94 C307.22 369.98 307.15 369.02 307.04 368.06 C306.93 367.1 306.8 366.14 306.63 365.18 C306.47 364.22 306.27 363.26 306.04 362.31 C305.82 361.35 305.55 360.39 305.27 359.45 C304.98 358.5 304.66 357.55 304.31 356.62 C303.96 355.69 303.59 354.76 303.19 353.85 C302.78 352.93 302.35 352.03 301.9 351.14 C301.45 350.26 300.96 349.38 300.46 348.53 C299.96 347.67 299.43 346.84 298.88 346.02 C298.33 345.2 297.75 344.41 297.16 343.63 C296.56 342.86 295.95 342.11 295.31 341.39 C294.68 340.66 294.02 339.96 293.34 339.27 C292.67 338.59 291.97 337.93 291.26 337.28 C290.55 336.64 289.82 336.02 289.08 335.42 C288.33 334.82 287.57 334.23 286.79 333.67 C286.02 333.1 285.22 332.56 284.42 332.03 C283.61 331.5 282.79 330.98 281.96 330.49 C281.13 329.99 280.28 329.51 279.43 329.04 C278.57 328.58 277.7 328.13 276.82 327.69 C275.94 327.26 275.05 326.84 274.15 326.43 C273.25 326.02 272.35 325.62 271.43 325.24 C270.51 324.85 269.59 324.48 268.66 324.12 C267.73 323.76 266.79 323.41 265.85 323.07 C264.91 322.73 263.96 322.4 263.01 322.08 C262.05 321.76 261.09 321.45 260.14 321.15 C259.17 320.84 258.21 320.55 257.25 320.26 C256.28 319.97 255.31 319.69 254.34 319.41 C253.38 319.14 252.41 318.87 251.44 318.6 C250.47 318.34 249.5 318.08 248.53 317.82 C247.57 317.57 246.6 317.32 245.64 317.07 C244.68 316.82 243.72 316.57 242.76 316.33 C241.81 316.08 240.86 315.84 239.91 315.6 C238.96 315.36 238.01 315.12 237.07 314.88 C236.13 314.63 235.19 314.39 234.25 314.15 C233.31 313.91 232.37 313.66 231.44 313.41 C230.5 313.17 229.57 312.92 228.64 312.66 C227.71 312.41 226.78 312.15 225.86 311.89 C224.93 311.63 224.01 311.36 223.08 311.09 C222.16 310.81 221.24 310.53 220.32 310.25 C219.39 309.96 218.47 309.67 217.55 309.36 C216.63 309.06 215.71 308.75 214.8 308.43 C213.87 308.11 212.96 307.78 212.04 307.45 C211.12 307.11 210.2 306.76 209.28 306.4 C208.36 306.03 207.44 305.66 206.53 305.28 C205.6 304.89 204.68 304.49 203.77 304.08 C202.84 303.67 201.07 303.33 201 302.8 C200.93 302.29 202.42 301.53 203.2 300.98 C203.97 300.42 204.79 299.94 205.62 299.47 C206.47 299.01 207.34 298.6 208.22 298.21 C209.11 297.8 210.02 297.44 210.93 297.08 C211.84 296.71 212.76 296.35 213.67 295.99 C214.59 295.63 215.5 295.26 216.42 294.9 C217.33 294.53 218.25 294.16 219.16 293.78 C220.07 293.41 220.99 293.03 221.9 292.65 C222.81 292.26 223.71 291.87 224.62 291.48 C225.52 291.08 226.42 290.68 227.32 290.27 C228.22 289.86 229.12 289.44 230.01 289.01 C230.9 288.59 231.78 288.16 232.67 287.71 C233.55 287.27 234.42 286.82 235.3 286.35 C236.17 285.89 237.03 285.42 237.9 284.94 C238.76 284.46 239.61 283.96 240.47 283.47 C241.32 282.97 242.16 282.46 243.01 281.94 C243.85 281.43 244.69 280.9 245.52 280.37 C246.35 279.84 247.18 279.3 248 278.75 C248.82 278.2 249.64 277.64 250.46 277.08 C251.27 276.52 252.08 275.95 252.89 275.37 C253.69 274.8 254.49 274.21 255.29 273.63 C256.08 273.04 256.88 272.44 257.66 271.84 C258.45 271.24 259.23 270.63 260.01 270.02 C260.79 269.41 261.57 268.79 262.34 268.17 C263.11 267.55 263.88 266.92 264.64 266.29 C265.4 265.66 266.16 265.02 266.92 264.38 C267.67 263.74 268.42 263.09 269.17 262.44 C269.92 261.8 270.66 261.15 271.4 260.49 C272.14 259.83 272.88 259.18 273.61 258.51 C274.33 257.85 275.06 257.18 275.76 256.49 C276.46 255.81 277.16 255.12 277.82 254.41 C278.49 253.69 279.14 252.97 279.75 252.22 C280.36 251.46 280.95 250.69 281.5 249.89 C282.06 249.1 282.57 248.27 283.07 247.43 C283.57 246.59 284.03 245.73 284.49 244.86 C284.94 243.99 285.38 243.11 285.8 242.22 C286.24 241.34 286.65 240.44 287.07 239.55 C287.48 238.65 287.89 237.75 288.31 236.85 C288.72 235.96 289.13 235.06 289.54 234.16 C289.96 233.27 290.37 232.37 290.8 231.48 C291.22 230.59 291.65 229.7 292.09 228.81 C292.53 227.93 292.97 227.05 293.44 226.18 C293.9 225.31 294.37 224.44 294.86 223.59 C295.35 222.73 295.86 221.88 296.39 221.05 C296.91 220.21 297.46 219.38 298.02 218.57 C298.59 217.75 299.17 216.95 299.77 216.15 C300.36 215.35 300.98 214.57 301.6 213.78 C302.22 213 302.85 212.23 303.48 211.45 C304.12 210.68 304.76 209.92 305.4 209.15 C306.04 208.39 306.68 207.63 307.32 206.87 C307.96 206.11 308.59 205.36 309.22 204.6 C309.84 203.84 310.47 203.09 311.07 202.32 C311.66 201.55 312.25 200.79 312.78 199.99 C313.3 199.2 313.81 198.4 314.23 197.56 C314.65 196.73 315.03 195.87 315.3 194.98 C315.58 194.08 315.78 193.14 315.87 192.18 C315.95 191.18 316.09 190.02 315.8 189.1 C315.52 188.21 314.78 187.46 314.21 186.7 C313.64 185.96 313.02 185.25 312.37 184.58 C311.72 183.92 311.03 183.29 310.32 182.7 C309.61 182.1 308.86 181.54 308.1 181 C307.33 180.46 306.54 179.96 305.74 179.46 C304.94 178.97 304.12 178.49 303.29 178.04 C302.45 177.57 301.61 177.13 300.75 176.7 C299.89 176.26 299.02 175.84 298.15 175.43 C297.27 175.01 296.38 174.6 295.49 174.2 C294.6 173.79 293.7 173.39 292.8 172.99 C291.9 172.59 290.99 172.19 290.1 171.77 C289.2 171.36 288.31 170.95 287.42 170.53 C286.54 170.1 285.66 169.67 284.79 169.22 C283.94 168.77 283.08 168.32 282.25 167.83 C281.43 167.35 280.61 166.86 279.83 166.33 C279.06 165.8 278.29 165.26 277.59 164.66 C276.89 164.08 276.22 163.46 275.63 162.79 C275.04 162.12 274.48 161.41 274.03 160.64 C273.57 159.87 273.18 159.04 272.89 158.16 C272.59 157.26 272.14 156.19 272.3 155.3 C272.46 154.41 273.28 153.63 273.82 152.83 C274.35 152.03 274.92 151.25 275.5 150.49 C276.09 149.74 276.71 149 277.34 148.28 C277.98 147.56 278.64 146.87 279.31 146.18 C279.99 145.49 280.69 144.83 281.4 144.17 C282.11 143.51 282.84 142.87 283.58 142.23 C284.32 141.6 285.08 140.97 285.84 140.36 C286.61 139.74 287.39 139.13 288.17 138.52 C288.95 137.92 289.74 137.32 290.53 136.72 C291.33 136.12 292.13 135.53 292.92 134.93 C293.72 134.34 294.52 133.74 295.32 133.14 C296.12 132.54 296.92 131.94 297.71 131.33 C298.5 130.73 299.29 130.11 300.07 129.49 C300.84 128.87 301.62 128.24 302.38 127.6 C303.14 126.96 303.89 126.31 304.63 125.65 C305.37 124.99 306.1 124.33 306.82 123.65 C307.55 122.97 308.26 122.29 308.96 121.59 C309.67 120.9 310.37 120.2 311.05 119.49 C311.74 118.78 312.42 118.06 313.1 117.34 C313.77 116.61 314.44 115.88 315.1 115.15 C315.76 114.41 316.41 113.67 317.06 112.92 C317.71 112.17 318.35 111.42 318.98 110.66 C319.62 109.9 320.25 109.13 320.87 108.37 C321.5 107.6 322.12 106.83 322.73 106.05 C323.35 105.28 323.96 104.5 324.57 103.71 C325.17 102.93 325.78 102.15 326.38 101.36 C326.98 100.57 327.57 99.78 328.16 98.98 C328.76 98.19 329.35 97.39 329.93 96.59 C330.52 95.79 331.1 94.99 331.68 94.19 C332.27 93.38 332.85 92.58 333.42 91.77 C334 90.97 334.58 90.16 335.15 89.35 C335.72 88.54 336.3 87.73 336.87 86.92 C337.44 86.11 338.01 85.29 338.58 84.48 C339.15 83.67 339.72 82.85 340.29 82.04 C340.86 81.23 341.43 80.41 341.99 79.6 C342.56 78.79 343.13 77.97 343.7 77.16 C344.27 76.35 344.84 75.54 345.42 74.73 C345.99 73.92 346.56 73.11 347.14 72.3 C347.71 71.49 348.29 70.68 348.87 69.88 C349.45 69.07 350.03 68.27 350.61 67.46 C351.19 66.66 351.78 65.86 352.36 65.06 C352.95 64.26 353.54 63.47 354.14 62.68 C354.73 61.88 355.33 61.09 355.93 60.31 C356.53 59.52 357.14 58.73 357.75 57.95 C358.36 57.17 358.97 56.4 359.59 55.62 C360.2 54.85 360.83 54.08 361.45 53.31 C362.08 52.55 362.71 51.79 363.35 51.03 C363.99 50.27 364.63 49.52 365.28 48.77 C365.93 48.02 366.59 47.28 367.25 46.54 C367.91 45.8 368.58 45.07 369.25 44.34 C369.93 43.62 370.61 42.89 371.3 42.18 C371.99 41.46 372.68 40.75 373.39 40.05 C374.09 39.34 374.8 38.65 375.52 37.95 C376.24 37.26 376.97 36.58 377.7 35.9" stroke="#008000"/>
</g>
<g clip-path="url(#ax)" font-family="Liberation Sans, sans-serif" font-weight="bold" font-size="13.333" text-anchor="middle"><text transform="translate(235.65,54.8) rotate(-45)" y="3.8" fill="#1f77b4" stroke="#1f77b4" stroke-width="0.3" textLength="33.36" lengthAdjust="spacingAndGlyphs">-100</text><text transform="translate(258.73,105.44) rotate(-45)" y="3.8" fill="#1f77b4" stroke="#1f77b4" stroke-width="0.3" textLength="24.09" lengthAdjust="spacingAndGlyphs">-90</text><text transform="translate(284.5,153.38) rotate(-45)" y="3.8" fill="#1f77b4" stroke="#1f77b4" stroke-width="0.3" textLength="24.09" lengthAdjust="spacingAndGlyphs">-80</text><text transform="translate(312.69,198.91) rotate(-45)" y="3.8" fill="#1f77b4" stroke="#1f77b4" stroke-width="0.3" textLength="24.09" lengthAdjust="spacingAndGlyphs">-70</text><text transform="translate(343.06,242.25) rotate(-45)" y="3.8" fill="#1f77b4" stroke="#1f77b4" stroke-width="0.3" textLength="24.09" lengthAdjust="spacingAndGlyphs">-60</text><text transform="translate(375.42,283.6) rotate(-45)" y="3.8" fill="#1f77b4" stroke="#1f77b4" stroke-width="0.3" textLength="24.09" lengthAdjust="spacingAndGlyphs">-50</text><text transform="translate(409.58,323.14) rotate(-45)" y="3.8" fill="#1f77b4" stroke="#1f77b4" stroke-width="0.3" textLength="24.09" lengthAdjust="spacingAndGlyphs">-40</text><text transform="translate(445.41,361.01) rotate(-45)" y="3.8" fill="#1f77b4" stroke="#1f77b4" stroke-width="0.3" textLength="24.09" lengthAdjust="spacingAndGlyphs">-30</text><text transform="translate(482.77,397.36) rotate(-45)" y="3.8" fill="#1f77b4" stroke="#1f77b4" stroke-width="0.3" textLength="24.09" lengthAdjust="spacingAndGlyphs">-20</text><text transform="translate(521.53,432.3) rotate(-45)" y="3.8" fill="#1f77b4" stroke="#1f77b4" stroke-width="0.3" textLength="24.09" lengthAdjust="spacingAndGlyphs">-10</text><text transform="translate(561.59,465.94) rotate(-45)" y="3.8" fill="#808080" stroke="#808080" stroke-width="0.3" textLength="9.28" lengthAdjust="spacingAndGlyphs">0</text><text transform="translate(602.86,498.37) rotate(-45)" y="3.8" fill="#d62728" stroke="#d62728" stroke-width="0.3" textLength="18.55" lengthAdjust="spacingAndGlyphs">10</text><text transform="translate(645.25,529.67) rotate(-45)" y="3.8" fill="#d62728" stroke="#d62728" stroke-width="0.3" textLength="18.55" lengthAdjust="spacingAndGlyphs">20</text><text transform="translate(688.7,559.93) rotate(-45)" y="3.8" fill="#d62728" stroke="#d62728" stroke-width="0.3" textLength="18.55" lengthAdjust="spacingAndGlyphs">30</text><text transform="translate(733.12,589.2) rotate(-45)" y="3.8" fill="#d62728" stroke="#d62728" stroke-width="0.3" textLength="18.55" lengthAdjust="spacingAndGlyphs">40</text></g>
<g clip-path="url(#ax)" font-family="Liberation Sans, sans-serif" font-weight="bold" font-size="13.333" text-anchor="middle" fill="#1e90ff" stroke="#1e90ff" stroke-width="0.3"><text transform="translate(222.7,440.19) rotate(-30)" y="4.8" textLength="23.62" lengthAdjust="spacingAndGlyphs">0.1</text><text transform="translate(269.55,440.19) rotate(-30)" y="4.8" textLength="23.62" lengthAdjust="spacingAndGlyphs">0.2</text><text transform="translate(319.55,440.19) rotate(-30)" y="4.8" textLength="23.62" lengthAdjust="spacingAndGlyphs">0.4</text><text transform="translate(350.37,440.19) rotate(-30)" y="4.8" textLength="23.62" lengthAdjust="spacingAndGlyphs">0.6</text><text transform="translate(390.98,443.78) rotate(-30)" y="4.8" textLength="9.28" lengthAdjust="spacingAndGlyphs">1</text><text transform="translate(424.72,440.19) rotate(-30)" y="4.8" textLength="23.62" lengthAdjust="spacingAndGlyphs">1.5</text><text transform="translate(449.52,443.78) rotate(-30)" y="4.8" textLength="9.28" lengthAdjust="spacingAndGlyphs">2</text><text transform="translate(485.71,443.78) rotate(-30)" y="4.8" textLength="9.28" lengthAdjust="spacingAndGlyphs">3</text><text transform="translate(512.32,443.78) rotate(-30)" y="4.8" textLength="9.28" lengthAdjust="spacingAndGlyphs">4</text><text transform="translate(551.17,443.78) rotate(-30)" y="4.8" textLength="9.28" lengthAdjust="spacingAndGlyphs">6</text><text transform="translate(579.72,443.78) rotate(-30)" y="4.8" textLength="9.28" lengthAdjust="spacingAndGlyphs">8</text><text transform="translate(602.43,441.46) rotate(-30)" y="4.8" textLength="18.55" lengthAdjust="spacingAndGlyphs">10</text><text transform="translate(629.77,441.46) rotate(-30)" y="4.8" textLength="18.55" lengthAdjust="spacingAndGlyphs">13</text><text transform="translate(651.88,441.46) rotate(-30)" y="4.8" textLength="18.55" lengthAdjust="spacingAndGlyphs">16</text><text transform="translate(676.12,441.46) rotate(-30)" y="4.8" textLength="18.55" lengthAdjust="spacingAndGlyphs">20</text><text transform="translate(700.82,441.46) rotate(-30)" y="4.8" textLength="18.55" lengthAdjust="spacingAndGlyphs">25</text><text transform="translate(721.32,441.46) rotate(-30)" y="4.8" textLength="18.55" lengthAdjust="spacingAndGlyphs">30</text><text transform="translate(742.08,441.46) rotate(-30)" y="4.8" textLength="18.55" lengthAdjust="spacingAndGlyphs">36</text></g>
<path d="M90.5 35.83V643.17M753.5 35.83V643.17M89.83 36.5H754.17M89.83 642.5H754.17" stroke="#000" stroke-width="1.333" fill="none"/>
<path d="M84.67 36.5H90.5M84.67 215.5H90.5M84.67 319.5H90.5M84.67 393.5H90.5M84.67 451.5H90.5M84.67 498.5H90.5M84.67 537.5H90.5M84.67 572.5H90.5M84.67 602.5H90.5M84.67 629.5H90.5M90.5 642.5V648.33M164.5 642.5V648.33M238.5 642.5V648.33M311.5 642.5V648.33M385.5 642.5V648.33M459.5 642.5V648.33M532.5 642.5V648.33M606.5 642.5V648.33M679.5 642.5V648.33M753.5 642.5V648.33" stroke="#000" stroke-width="1.333" fill="none"/>
<g font-family="Liberation Sans, sans-serif" fill="#000"><text x="47.16" y="43.9" font-size="17.67" textLength="31.03" lengthAdjust="spacingAndGlyphs">100</text><text x="45.84" y="221.7" font-size="17.67" textLength="31.15" lengthAdjust="spacingAndGlyphs">200</text><text x="46.93" y="326.25" font-size="17.67" textLength="30.96" lengthAdjust="spacingAndGlyphs">300</text><text x="46.88" y="400.25" font-size="17.67" textLength="31.00" lengthAdjust="spacingAndGlyphs">400</text><text x="46.83" y="457.55" font-size="17.67" textLength="30.96" lengthAdjust="spacingAndGlyphs">500</text><text x="46.65" y="505.25" font-size="17.67" textLength="31.24" lengthAdjust="spacingAndGlyphs">600</text><text x="46.72" y="544.55" font-size="17.67" textLength="31.07" lengthAdjust="spacingAndGlyphs">700</text><text x="46.66" y="579.25" font-size="17.67" textLength="31.23" lengthAdjust="spacingAndGlyphs">800</text><text x="46.66" y="609.25" font-size="17.67" textLength="31.23" lengthAdjust="spacingAndGlyphs">900</text><text x="37.05" y="636.85" font-size="17.67" textLength="41.55" lengthAdjust="spacingAndGlyphs">1000</text><text x="73.66" y="667.63" font-size="17.67" textLength="34.07" lengthAdjust="spacingAndGlyphs">−40</text><text x="147.66" y="667.63" font-size="17.67" textLength="34.07" lengthAdjust="spacingAndGlyphs">−30</text><text x="221.66" y="667.63" font-size="17.67" textLength="34.07" lengthAdjust="spacingAndGlyphs">−20</text><text x="294.66" y="667.63" font-size="17.67" textLength="34.07" lengthAdjust="spacingAndGlyphs">−10</text><text x="380.58" y="667.63" font-size="17.67" textLength="9.75" lengthAdjust="spacingAndGlyphs">0</text><text x="449.36" y="667.63" font-size="17.67" textLength="20.30" lengthAdjust="spacingAndGlyphs">10</text><text x="522.23" y="667.63" font-size="17.67" textLength="20.44" lengthAdjust="spacingAndGlyphs">20</text><text x="596.42" y="667.63" font-size="17.67" textLength="20.24" lengthAdjust="spacingAndGlyphs">30</text><text x="669.36" y="667.63" font-size="17.67" textLength="20.30" lengthAdjust="spacingAndGlyphs">40</text><text x="743.42" y="667.63" font-size="17.67" textLength="20.24" lengthAdjust="spacingAndGlyphs">50</text><text x="250.12" y="26.5" font-size="21.20" textLength="343.73" lengthAdjust="spacingAndGlyphs">wetPf2_GN05.2026.073.09.43.R15</text><text x="349.61" y="692.4" font-size="17.67" textLength="144.10" lengthAdjust="spacingAndGlyphs">Temperature (°C)</text><text transform="translate(24.7,340.2) rotate(-90)" x="-59.53" font-size="17.67" textLength="119.07" lengthAdjust="spacingAndGlyphs">Pressure (hPa)</text></g>
</svg></body></html>
